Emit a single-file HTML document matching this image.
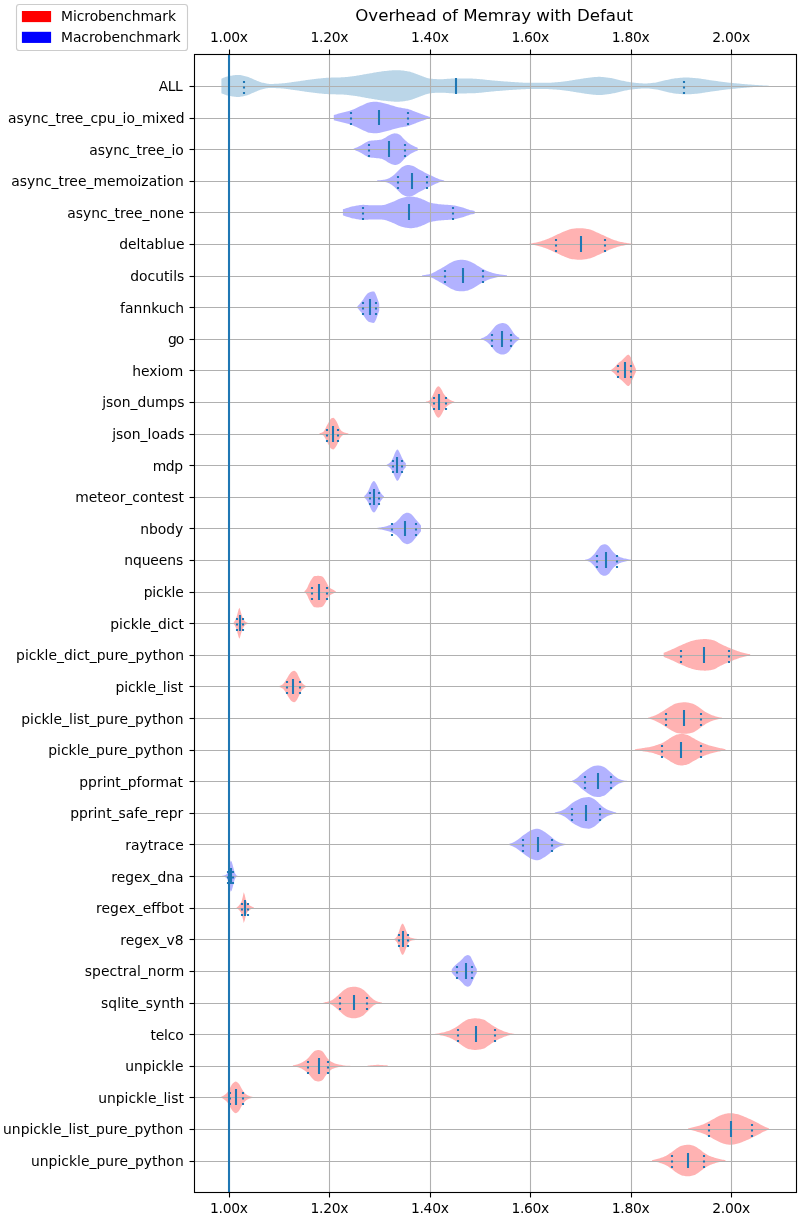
<!DOCTYPE html>
<html lang="en"><head><meta charset="utf-8"><title>Overhead of Memray with Defaut</title>
<style>html,body{margin:0;padding:0;background:#fff}svg{display:block;will-change:transform}text{font-family:'DejaVu Sans','Liberation Sans',sans-serif;fill:#000}</style>
</head><body>
<svg width="800" height="1220" viewBox="0 0 800 1220">
<rect width="800" height="1220" fill="#fff"/>
<g stroke="none" fill-opacity="0.3">
<path fill="#1f77b4" d="M221.4 78.64 L222.4 78.21 L223.4 77.8 L224.4 77.42 L225.4 77.06 L226.4 76.74 L227.4 76.48 L228.39 76.26 L229.39 76.05 L230.39 75.85 L231.39 75.66 L232.39 75.48 L233.39 75.32 L234.39 75.18 L235.39 75.07 L236.39 74.99 L237.39 74.95 L238.39 74.95 L239.39 75 L240.39 75.11 L241.39 75.27 L242.38 75.47 L243.38 75.7 L244.38 75.95 L245.38 76.21 L246.38 76.48 L247.38 76.75 L248.38 77.07 L249.38 77.45 L250.38 77.88 L251.38 78.33 L252.38 78.8 L253.38 79.25 L254.38 79.69 L255.38 80.09 L256.37 80.5 L257.37 80.91 L258.37 81.32 L259.37 81.71 L260.37 82.07 L261.37 82.38 L262.37 82.63 L263.37 82.87 L264.37 83.12 L265.37 83.35 L266.37 83.55 L267.37 83.72 L268.37 83.85 L269.36 83.93 L270.36 83.94 L271.36 83.93 L272.36 83.91 L273.36 83.88 L274.36 83.84 L275.36 83.8 L276.36 83.75 L277.36 83.69 L278.36 83.64 L279.36 83.58 L280.36 83.52 L281.36 83.45 L282.36 83.36 L283.35 83.27 L284.35 83.16 L285.35 83.05 L286.35 82.92 L287.35 82.79 L288.35 82.66 L289.35 82.52 L290.35 82.38 L291.35 82.24 L292.35 82.1 L293.35 81.96 L294.35 81.83 L295.35 81.69 L296.35 81.56 L297.34 81.42 L298.34 81.28 L299.34 81.13 L300.34 80.98 L301.34 80.83 L302.34 80.68 L303.34 80.53 L304.34 80.38 L305.34 80.23 L306.34 80.08 L307.34 79.94 L308.34 79.8 L309.34 79.67 L310.34 79.54 L311.33 79.42 L312.33 79.3 L313.33 79.19 L314.33 79.07 L315.33 78.96 L316.33 78.84 L317.33 78.72 L318.33 78.61 L319.33 78.5 L320.33 78.39 L321.33 78.29 L322.33 78.19 L323.33 78.09 L324.32 78 L325.32 77.92 L326.32 77.84 L327.32 77.78 L328.32 77.72 L329.32 77.67 L330.32 77.63 L331.32 77.6 L332.32 77.57 L333.32 77.54 L334.32 77.52 L335.32 77.51 L336.32 77.49 L337.32 77.47 L338.31 77.45 L339.31 77.43 L340.31 77.4 L341.31 77.37 L342.31 77.33 L343.31 77.27 L344.31 77.2 L345.31 77.12 L346.31 77.03 L347.31 76.93 L348.31 76.81 L349.31 76.69 L350.31 76.57 L351.31 76.43 L352.3 76.3 L353.3 76.17 L354.3 76.03 L355.3 75.9 L356.3 75.76 L357.3 75.61 L358.3 75.44 L359.3 75.28 L360.3 75.1 L361.3 74.92 L362.3 74.74 L363.3 74.55 L364.3 74.36 L365.29 74.17 L366.29 73.99 L367.29 73.81 L368.29 73.63 L369.29 73.46 L370.29 73.29 L371.29 73.13 L372.29 72.96 L373.29 72.79 L374.29 72.61 L375.29 72.44 L376.29 72.27 L377.29 72.11 L378.29 71.94 L379.28 71.79 L380.28 71.63 L381.28 71.49 L382.28 71.35 L383.28 71.23 L384.28 71.11 L385.28 71.01 L386.28 70.91 L387.28 70.81 L388.28 70.7 L389.28 70.6 L390.28 70.51 L391.28 70.42 L392.28 70.34 L393.27 70.27 L394.27 70.21 L395.27 70.17 L396.27 70.15 L397.27 70.14 L398.27 70.16 L399.27 70.21 L400.27 70.28 L401.27 70.38 L402.27 70.49 L403.27 70.61 L404.27 70.75 L405.27 70.9 L406.26 71.06 L407.26 71.22 L408.26 71.39 L409.26 71.59 L410.26 71.85 L411.26 72.14 L412.26 72.47 L413.26 72.83 L414.26 73.2 L415.26 73.58 L416.26 73.96 L417.26 74.33 L418.26 74.69 L419.26 75.02 L420.25 75.38 L421.25 75.76 L422.25 76.15 L423.25 76.55 L424.25 76.94 L425.25 77.31 L426.25 77.66 L427.25 77.97 L428.25 78.23 L429.25 78.43 L430.25 78.57 L431.25 78.68 L432.25 78.78 L433.25 78.88 L434.24 78.97 L435.24 79.05 L436.24 79.12 L437.24 79.17 L438.24 79.21 L439.24 79.23 L440.24 79.24 L441.24 79.22 L442.24 79.19 L443.24 79.14 L444.24 79.08 L445.24 79.02 L446.24 78.94 L447.24 78.86 L448.23 78.78 L449.23 78.7 L450.23 78.63 L451.23 78.57 L452.23 78.51 L453.23 78.47 L454.23 78.45 L455.23 78.44 L456.23 78.44 L457.23 78.44 L458.23 78.45 L459.23 78.45 L460.23 78.45 L461.22 78.46 L462.22 78.47 L463.22 78.47 L464.22 78.48 L465.22 78.49 L466.22 78.5 L467.22 78.51 L468.22 78.52 L469.22 78.53 L470.22 78.54 L471.22 78.56 L472.22 78.59 L473.22 78.63 L474.22 78.68 L475.21 78.74 L476.21 78.81 L477.21 78.88 L478.21 78.96 L479.21 79.05 L480.21 79.14 L481.21 79.24 L482.21 79.34 L483.21 79.44 L484.21 79.55 L485.21 79.66 L486.21 79.77 L487.21 79.88 L488.21 79.98 L489.2 80.09 L490.2 80.2 L491.2 80.3 L492.2 80.4 L493.2 80.5 L494.2 80.59 L495.2 80.68 L496.2 80.76 L497.2 80.83 L498.2 80.91 L499.2 80.99 L500.2 81.07 L501.2 81.15 L502.19 81.23 L503.19 81.31 L504.19 81.39 L505.19 81.47 L506.19 81.54 L507.19 81.62 L508.19 81.69 L509.19 81.77 L510.19 81.84 L511.19 81.9 L512.19 81.97 L513.19 82.03 L514.19 82.09 L515.19 82.15 L516.18 82.21 L517.18 82.27 L518.18 82.33 L519.18 82.4 L520.18 82.46 L521.18 82.52 L522.18 82.58 L523.18 82.63 L524.18 82.68 L525.18 82.73 L526.18 82.77 L527.18 82.8 L528.18 82.82 L529.18 82.84 L530.17 82.84 L531.17 82.84 L532.17 82.84 L533.17 82.84 L534.17 82.84 L535.17 82.84 L536.17 82.84 L537.17 82.84 L538.17 82.84 L539.17 82.84 L540.17 82.84 L541.17 82.84 L542.17 82.84 L543.16 82.84 L544.16 82.84 L545.16 82.84 L546.16 82.83 L547.16 82.81 L548.16 82.78 L549.16 82.74 L550.16 82.69 L551.16 82.63 L552.16 82.57 L553.16 82.5 L554.16 82.43 L555.16 82.35 L556.16 82.27 L557.15 82.18 L558.15 82.1 L559.15 82.01 L560.15 81.93 L561.15 81.84 L562.15 81.73 L563.15 81.62 L564.15 81.49 L565.15 81.36 L566.15 81.22 L567.15 81.07 L568.15 80.92 L569.15 80.76 L570.15 80.6 L571.14 80.44 L572.14 80.27 L573.14 80.11 L574.14 79.94 L575.14 79.78 L576.14 79.62 L577.14 79.47 L578.14 79.32 L579.14 79.17 L580.14 79.01 L581.14 78.84 L582.14 78.68 L583.14 78.51 L584.14 78.35 L585.13 78.19 L586.13 78.04 L587.13 77.89 L588.13 77.76 L589.13 77.63 L590.13 77.53 L591.13 77.42 L592.13 77.32 L593.13 77.21 L594.13 77.11 L595.13 77.02 L596.13 76.95 L597.13 76.89 L598.12 76.85 L599.12 76.84 L600.12 76.86 L601.12 76.9 L602.12 76.97 L603.12 77.05 L604.12 77.16 L605.12 77.27 L606.12 77.4 L607.12 77.54 L608.12 77.68 L609.12 77.82 L610.12 77.96 L611.12 78.11 L612.11 78.3 L613.11 78.51 L614.11 78.73 L615.11 78.98 L616.11 79.23 L617.11 79.48 L618.11 79.74 L619.11 79.99 L620.11 80.23 L621.11 80.45 L622.11 80.66 L623.11 80.86 L624.11 81.07 L625.11 81.27 L626.1 81.48 L627.1 81.67 L628.1 81.86 L629.1 82.03 L630.1 82.19 L631.1 82.33 L632.1 82.45 L633.1 82.56 L634.1 82.67 L635.1 82.78 L636.1 82.89 L637.1 82.99 L638.1 83.08 L639.09 83.17 L640.09 83.25 L641.09 83.31 L642.09 83.37 L643.09 83.41 L644.09 83.43 L645.09 83.44 L646.09 83.43 L647.09 83.39 L648.09 83.34 L649.09 83.27 L650.09 83.18 L651.09 83.08 L652.09 82.98 L653.08 82.87 L654.08 82.75 L655.08 82.63 L656.08 82.48 L657.08 82.3 L658.08 82.08 L659.08 81.84 L660.08 81.58 L661.08 81.32 L662.08 81.05 L663.08 80.79 L664.08 80.54 L665.08 80.32 L666.08 80.11 L667.07 79.89 L668.07 79.67 L669.07 79.45 L670.07 79.23 L671.07 79.02 L672.07 78.83 L673.07 78.65 L674.07 78.49 L675.07 78.35 L676.07 78.23 L677.07 78.13 L678.07 78.03 L679.07 77.93 L680.06 77.84 L681.06 77.76 L682.06 77.68 L683.06 77.62 L684.06 77.58 L685.06 77.55 L686.06 77.54 L687.06 77.55 L688.06 77.58 L689.06 77.62 L690.06 77.67 L691.06 77.74 L692.06 77.81 L693.06 77.89 L694.05 77.98 L695.05 78.07 L696.05 78.16 L697.05 78.24 L698.05 78.34 L699.05 78.46 L700.05 78.59 L701.05 78.73 L702.05 78.88 L703.05 79.04 L704.05 79.2 L705.05 79.36 L706.05 79.53 L707.05 79.69 L708.04 79.85 L709.04 80 L710.04 80.15 L711.04 80.28 L712.04 80.42 L713.04 80.56 L714.04 80.7 L715.04 80.84 L716.04 80.97 L717.04 81.11 L718.04 81.25 L719.04 81.38 L720.04 81.51 L721.04 81.65 L722.03 81.78 L723.03 81.9 L724.03 82.03 L725.03 82.15 L726.03 82.28 L727.03 82.4 L728.03 82.51 L729.03 82.63 L730.03 82.74 L731.03 82.84 L732.03 82.95 L733.03 83.05 L734.03 83.15 L735.02 83.25 L736.02 83.34 L737.02 83.44 L738.02 83.53 L739.02 83.62 L740.02 83.71 L741.02 83.8 L742.02 83.89 L743.02 83.97 L744.02 84.06 L745.02 84.14 L746.02 84.22 L747.02 84.3 L748.02 84.38 L749.01 84.46 L750.01 84.54 L751.01 84.62 L752.01 84.69 L753.01 84.77 L754.01 84.84 L755.01 84.91 L756.01 84.98 L757.01 85.05 L758.01 85.12 L759.01 85.18 L760.01 85.24 L761.01 85.3 L762.01 85.35 L763 85.41 L764 85.46 L765 85.51 L766 85.56 L767 85.6 L768 85.65 L769 85.69 L769 86.19 L768 86.23 L767 86.28 L766 86.32 L765 86.37 L764 86.42 L763 86.47 L762.01 86.53 L761.01 86.58 L760.01 86.64 L759.01 86.7 L758.01 86.76 L757.01 86.83 L756.01 86.9 L755.01 86.97 L754.01 87.04 L753.01 87.11 L752.01 87.19 L751.01 87.26 L750.01 87.34 L749.01 87.42 L748.02 87.5 L747.02 87.58 L746.02 87.66 L745.02 87.74 L744.02 87.82 L743.02 87.91 L742.02 87.99 L741.02 88.08 L740.02 88.17 L739.02 88.26 L738.02 88.35 L737.02 88.44 L736.02 88.54 L735.02 88.63 L734.03 88.73 L733.03 88.83 L732.03 88.93 L731.03 89.04 L730.03 89.14 L729.03 89.25 L728.03 89.37 L727.03 89.48 L726.03 89.6 L725.03 89.73 L724.03 89.85 L723.03 89.98 L722.03 90.1 L721.04 90.23 L720.04 90.37 L719.04 90.5 L718.04 90.63 L717.04 90.77 L716.04 90.91 L715.04 91.04 L714.04 91.18 L713.04 91.32 L712.04 91.46 L711.04 91.6 L710.04 91.73 L709.04 91.88 L708.04 92.03 L707.05 92.19 L706.05 92.35 L705.05 92.52 L704.05 92.68 L703.05 92.84 L702.05 93 L701.05 93.15 L700.05 93.29 L699.05 93.42 L698.05 93.54 L697.05 93.64 L696.05 93.72 L695.05 93.81 L694.05 93.9 L693.06 93.99 L692.06 94.07 L691.06 94.14 L690.06 94.21 L689.06 94.26 L688.06 94.3 L687.06 94.33 L686.06 94.34 L685.06 94.33 L684.06 94.3 L683.06 94.26 L682.06 94.2 L681.06 94.12 L680.06 94.04 L679.07 93.95 L678.07 93.85 L677.07 93.75 L676.07 93.65 L675.07 93.53 L674.07 93.39 L673.07 93.23 L672.07 93.05 L671.07 92.86 L670.07 92.65 L669.07 92.43 L668.07 92.21 L667.07 91.99 L666.08 91.77 L665.08 91.56 L664.08 91.34 L663.08 91.09 L662.08 90.83 L661.08 90.56 L660.08 90.3 L659.08 90.04 L658.08 89.8 L657.08 89.58 L656.08 89.4 L655.08 89.25 L654.08 89.13 L653.08 89.01 L652.09 88.9 L651.09 88.8 L650.09 88.7 L649.09 88.61 L648.09 88.54 L647.09 88.49 L646.09 88.45 L645.09 88.44 L644.09 88.45 L643.09 88.47 L642.09 88.51 L641.09 88.57 L640.09 88.63 L639.09 88.71 L638.1 88.8 L637.1 88.89 L636.1 88.99 L635.1 89.1 L634.1 89.21 L633.1 89.32 L632.1 89.43 L631.1 89.55 L630.1 89.69 L629.1 89.85 L628.1 90.02 L627.1 90.21 L626.1 90.4 L625.11 90.61 L624.11 90.81 L623.11 91.02 L622.11 91.22 L621.11 91.43 L620.11 91.65 L619.11 91.89 L618.11 92.14 L617.11 92.4 L616.11 92.65 L615.11 92.9 L614.11 93.15 L613.11 93.37 L612.11 93.58 L611.12 93.77 L610.12 93.92 L609.12 94.06 L608.12 94.2 L607.12 94.34 L606.12 94.48 L605.12 94.61 L604.12 94.72 L603.12 94.83 L602.12 94.91 L601.12 94.98 L600.12 95.02 L599.12 95.04 L598.12 95.03 L597.13 94.99 L596.13 94.93 L595.13 94.86 L594.13 94.77 L593.13 94.67 L592.13 94.56 L591.13 94.46 L590.13 94.35 L589.13 94.25 L588.13 94.12 L587.13 93.99 L586.13 93.84 L585.13 93.69 L584.14 93.53 L583.14 93.37 L582.14 93.2 L581.14 93.04 L580.14 92.87 L579.14 92.71 L578.14 92.56 L577.14 92.41 L576.14 92.26 L575.14 92.1 L574.14 91.94 L573.14 91.77 L572.14 91.61 L571.14 91.44 L570.15 91.28 L569.15 91.12 L568.15 90.96 L567.15 90.81 L566.15 90.66 L565.15 90.52 L564.15 90.39 L563.15 90.26 L562.15 90.15 L561.15 90.04 L560.15 89.95 L559.15 89.87 L558.15 89.78 L557.15 89.7 L556.16 89.61 L555.16 89.53 L554.16 89.45 L553.16 89.38 L552.16 89.31 L551.16 89.25 L550.16 89.19 L549.16 89.14 L548.16 89.1 L547.16 89.07 L546.16 89.05 L545.16 89.04 L544.16 89.04 L543.16 89.04 L542.17 89.04 L541.17 89.04 L540.17 89.04 L539.17 89.04 L538.17 89.04 L537.17 89.04 L536.17 89.04 L535.17 89.04 L534.17 89.04 L533.17 89.04 L532.17 89.04 L531.17 89.04 L530.17 89.04 L529.18 89.04 L528.18 89.06 L527.18 89.08 L526.18 89.11 L525.18 89.15 L524.18 89.2 L523.18 89.25 L522.18 89.3 L521.18 89.36 L520.18 89.42 L519.18 89.48 L518.18 89.55 L517.18 89.61 L516.18 89.67 L515.19 89.73 L514.19 89.79 L513.19 89.85 L512.19 89.91 L511.19 89.98 L510.19 90.04 L509.19 90.11 L508.19 90.19 L507.19 90.26 L506.19 90.34 L505.19 90.41 L504.19 90.49 L503.19 90.57 L502.19 90.65 L501.2 90.73 L500.2 90.81 L499.2 90.89 L498.2 90.97 L497.2 91.05 L496.2 91.12 L495.2 91.2 L494.2 91.29 L493.2 91.38 L492.2 91.48 L491.2 91.58 L490.2 91.68 L489.2 91.79 L488.21 91.9 L487.21 92 L486.21 92.11 L485.21 92.22 L484.21 92.33 L483.21 92.44 L482.21 92.54 L481.21 92.64 L480.21 92.74 L479.21 92.83 L478.21 92.92 L477.21 93 L476.21 93.07 L475.21 93.14 L474.22 93.2 L473.22 93.25 L472.22 93.29 L471.22 93.32 L470.22 93.34 L469.22 93.35 L468.22 93.36 L467.22 93.37 L466.22 93.38 L465.22 93.39 L464.22 93.4 L463.22 93.41 L462.22 93.41 L461.22 93.42 L460.23 93.43 L459.23 93.43 L458.23 93.43 L457.23 93.44 L456.23 93.44 L455.23 93.44 L454.23 93.43 L453.23 93.41 L452.23 93.37 L451.23 93.31 L450.23 93.25 L449.23 93.18 L448.23 93.1 L447.24 93.02 L446.24 92.94 L445.24 92.86 L444.24 92.8 L443.24 92.74 L442.24 92.69 L441.24 92.66 L440.24 92.64 L439.24 92.65 L438.24 92.67 L437.24 92.71 L436.24 92.76 L435.24 92.83 L434.24 92.91 L433.25 93 L432.25 93.1 L431.25 93.2 L430.25 93.31 L429.25 93.45 L428.25 93.65 L427.25 93.91 L426.25 94.22 L425.25 94.57 L424.25 94.94 L423.25 95.33 L422.25 95.73 L421.25 96.12 L420.25 96.5 L419.26 96.86 L418.26 97.19 L417.26 97.55 L416.26 97.92 L415.26 98.3 L414.26 98.68 L413.26 99.05 L412.26 99.41 L411.26 99.74 L410.26 100.03 L409.26 100.29 L408.26 100.49 L407.26 100.66 L406.26 100.82 L405.27 100.98 L404.27 101.13 L403.27 101.27 L402.27 101.39 L401.27 101.5 L400.27 101.6 L399.27 101.67 L398.27 101.72 L397.27 101.74 L396.27 101.73 L395.27 101.71 L394.27 101.67 L393.27 101.61 L392.28 101.54 L391.28 101.46 L390.28 101.37 L389.28 101.28 L388.28 101.18 L387.28 101.07 L386.28 100.97 L385.28 100.87 L384.28 100.77 L383.28 100.65 L382.28 100.53 L381.28 100.39 L380.28 100.25 L379.28 100.09 L378.29 99.94 L377.29 99.77 L376.29 99.61 L375.29 99.44 L374.29 99.27 L373.29 99.09 L372.29 98.92 L371.29 98.75 L370.29 98.59 L369.29 98.42 L368.29 98.25 L367.29 98.07 L366.29 97.89 L365.29 97.71 L364.3 97.52 L363.3 97.33 L362.3 97.14 L361.3 96.96 L360.3 96.78 L359.3 96.6 L358.3 96.44 L357.3 96.27 L356.3 96.12 L355.3 95.98 L354.3 95.85 L353.3 95.71 L352.3 95.58 L351.31 95.45 L350.31 95.31 L349.31 95.19 L348.31 95.07 L347.31 94.95 L346.31 94.85 L345.31 94.76 L344.31 94.68 L343.31 94.61 L342.31 94.55 L341.31 94.51 L340.31 94.48 L339.31 94.45 L338.31 94.43 L337.32 94.41 L336.32 94.39 L335.32 94.37 L334.32 94.36 L333.32 94.34 L332.32 94.31 L331.32 94.28 L330.32 94.25 L329.32 94.21 L328.32 94.16 L327.32 94.1 L326.32 94.04 L325.32 93.96 L324.32 93.88 L323.33 93.79 L322.33 93.69 L321.33 93.59 L320.33 93.49 L319.33 93.38 L318.33 93.27 L317.33 93.16 L316.33 93.04 L315.33 92.92 L314.33 92.81 L313.33 92.69 L312.33 92.58 L311.33 92.46 L310.34 92.34 L309.34 92.21 L308.34 92.08 L307.34 91.94 L306.34 91.8 L305.34 91.65 L304.34 91.5 L303.34 91.35 L302.34 91.2 L301.34 91.05 L300.34 90.9 L299.34 90.75 L298.34 90.6 L297.34 90.46 L296.35 90.32 L295.35 90.19 L294.35 90.05 L293.35 89.92 L292.35 89.78 L291.35 89.64 L290.35 89.5 L289.35 89.36 L288.35 89.22 L287.35 89.09 L286.35 88.96 L285.35 88.83 L284.35 88.72 L283.35 88.61 L282.36 88.52 L281.36 88.43 L280.36 88.36 L279.36 88.3 L278.36 88.24 L277.36 88.19 L276.36 88.13 L275.36 88.08 L274.36 88.04 L273.36 88 L272.36 87.97 L271.36 87.95 L270.36 87.94 L269.36 87.95 L268.37 88.03 L267.37 88.16 L266.37 88.33 L265.37 88.53 L264.37 88.76 L263.37 89.01 L262.37 89.25 L261.37 89.5 L260.37 89.81 L259.37 90.17 L258.37 90.56 L257.37 90.97 L256.37 91.38 L255.38 91.79 L254.38 92.19 L253.38 92.63 L252.38 93.08 L251.38 93.55 L250.38 94 L249.38 94.43 L248.38 94.81 L247.38 95.13 L246.38 95.4 L245.38 95.67 L244.38 95.93 L243.38 96.18 L242.38 96.41 L241.39 96.61 L240.39 96.77 L239.39 96.88 L238.39 96.93 L237.39 96.93 L236.39 96.89 L235.39 96.81 L234.39 96.7 L233.39 96.56 L232.39 96.4 L231.39 96.22 L230.39 96.03 L229.39 95.83 L228.39 95.62 L227.4 95.4 L226.4 95.14 L225.4 94.82 L224.4 94.46 L223.4 94.08 L222.4 93.67 L221.4 93.24Z"/>
<path fill="#0000ff" d="M333.8 114.95 L334.81 114.68 L335.81 114.41 L336.82 114.14 L337.82 113.87 L338.83 113.6 L339.83 113.33 L340.84 113.06 L341.84 112.79 L342.85 112.52 L343.85 112.27 L344.86 112.02 L345.86 111.77 L346.87 111.51 L347.87 111.25 L348.88 110.97 L349.88 110.67 L350.89 110.35 L351.89 109.99 L352.9 109.59 L353.9 109.16 L354.91 108.7 L355.91 108.22 L356.92 107.74 L357.93 107.24 L358.93 106.76 L359.94 106.28 L360.94 105.83 L361.95 105.4 L362.95 104.94 L363.96 104.46 L364.96 103.98 L365.97 103.51 L366.97 103.08 L367.98 102.71 L368.98 102.42 L369.99 102.23 L370.99 102.1 L372 101.97 L373 101.86 L374.01 101.79 L375.01 101.75 L376.02 101.76 L377.02 101.85 L378.03 101.99 L379.03 102.17 L380.04 102.36 L381.04 102.55 L382.05 102.75 L383.06 102.98 L384.06 103.24 L385.07 103.5 L386.07 103.78 L387.08 104.05 L388.08 104.32 L389.09 104.6 L390.09 104.89 L391.1 105.19 L392.1 105.49 L393.11 105.8 L394.11 106.1 L395.12 106.39 L396.12 106.67 L397.13 106.94 L398.13 107.19 L399.14 107.42 L400.14 107.62 L401.15 107.8 L402.15 107.97 L403.16 108.13 L404.16 108.29 L405.17 108.46 L406.18 108.64 L407.18 108.85 L408.19 109.09 L409.19 109.39 L410.2 109.73 L411.2 110.11 L412.21 110.51 L413.21 110.92 L414.22 111.33 L415.22 111.72 L416.23 112.09 L417.23 112.47 L418.24 112.85 L419.24 113.23 L420.25 113.61 L421.25 113.99 L422.26 114.35 L423.26 114.71 L424.27 115.06 L425.27 115.41 L426.28 115.75 L427.28 116.08 L428.29 116.41 L429.29 116.73 L430.3 117.05 L430.3 118.05 L429.29 118.36 L428.29 118.68 L427.28 119.01 L426.28 119.35 L425.27 119.68 L424.27 120.03 L423.26 120.38 L422.26 120.74 L421.25 121.11 L420.25 121.48 L419.24 121.86 L418.24 122.24 L417.23 122.62 L416.23 123 L415.22 123.38 L414.22 123.76 L413.21 124.17 L412.21 124.58 L411.2 124.98 L410.2 125.36 L409.19 125.71 L408.19 126 L407.18 126.24 L406.18 126.45 L405.17 126.63 L404.16 126.8 L403.16 126.97 L402.15 127.13 L401.15 127.29 L400.14 127.47 L399.14 127.67 L398.13 127.9 L397.13 128.15 L396.12 128.42 L395.12 128.7 L394.11 129 L393.11 129.3 L392.1 129.6 L391.1 129.9 L390.09 130.2 L389.09 130.49 L388.08 130.77 L387.08 131.04 L386.07 131.31 L385.07 131.59 L384.06 131.86 L383.06 132.11 L382.05 132.34 L381.04 132.54 L380.04 132.73 L379.03 132.92 L378.03 133.1 L377.02 133.24 L376.02 133.33 L375.01 133.34 L374.01 133.3 L373 133.23 L372 133.12 L370.99 133 L369.99 132.86 L368.98 132.67 L367.98 132.38 L366.97 132.01 L365.97 131.58 L364.96 131.12 L363.96 130.63 L362.95 130.15 L361.95 129.69 L360.94 129.26 L359.94 128.81 L358.93 128.33 L357.93 127.85 L356.92 127.36 L355.91 126.87 L354.91 126.39 L353.9 125.93 L352.9 125.5 L351.89 125.1 L350.89 124.74 L349.88 124.42 L348.88 124.12 L347.87 123.84 L346.87 123.58 L345.86 123.33 L344.86 123.08 L343.85 122.82 L342.85 122.57 L341.84 122.3 L340.84 122.03 L339.83 121.76 L338.83 121.49 L337.82 121.22 L336.82 120.95 L335.81 120.68 L334.81 120.42 L333.8 120.15Z"/>
<path fill="#0000ff" d="M353.7 148.55 L354.7 148.19 L355.7 147.8 L356.7 147.38 L357.7 146.94 L358.7 146.48 L359.7 146 L360.7 145.5 L361.7 144.95 L362.7 144.34 L363.7 143.71 L364.7 143.09 L365.7 142.51 L366.7 141.97 L367.7 141.42 L368.7 141.02 L369.7 140.84 L370.7 140.7 L371.7 140.6 L372.7 140.52 L373.7 140.44 L374.7 140.36 L375.7 140.26 L376.7 140.16 L377.7 140.06 L378.7 139.95 L379.7 139.82 L380.7 139.67 L381.7 139.45 L382.7 139.07 L383.7 138.57 L384.7 138.02 L385.7 137.43 L386.7 136.76 L387.7 136.09 L388.7 135.51 L389.7 134.95 L390.7 134.44 L391.7 134.04 L392.7 133.75 L393.7 133.5 L394.7 133.36 L395.7 133.4 L396.7 133.58 L397.7 133.86 L398.7 134.24 L399.7 134.87 L400.7 135.61 L401.7 136.55 L402.7 137.67 L403.7 138.82 L404.7 139.87 L405.7 140.76 L406.7 141.6 L407.7 142.4 L408.7 143.15 L409.7 143.83 L410.7 144.46 L411.7 145.03 L412.7 145.57 L413.7 146.07 L414.7 146.52 L415.7 146.94 L416.7 147.32 L417.7 147.65 L417.7 150.65 L416.7 150.99 L415.7 151.36 L414.7 151.78 L413.7 152.24 L412.7 152.73 L411.7 153.27 L410.7 153.85 L409.7 154.47 L408.7 155.16 L407.7 155.9 L406.7 156.7 L405.7 157.55 L404.7 158.44 L403.7 159.48 L402.7 160.63 L401.7 161.75 L400.7 162.7 L399.7 163.44 L398.7 164.06 L397.7 164.44 L396.7 164.72 L395.7 164.91 L394.7 164.94 L393.7 164.8 L392.7 164.55 L391.7 164.26 L390.7 163.86 L389.7 163.35 L388.7 162.79 L387.7 162.22 L386.7 161.55 L385.7 160.87 L384.7 160.29 L383.7 159.74 L382.7 159.23 L381.7 158.85 L380.7 158.64 L379.7 158.48 L378.7 158.36 L377.7 158.25 L376.7 158.15 L375.7 158.04 L374.7 157.94 L373.7 157.86 L372.7 157.78 L371.7 157.7 L370.7 157.6 L369.7 157.47 L368.7 157.28 L367.7 156.88 L366.7 156.33 L365.7 155.79 L364.7 155.22 L363.7 154.6 L362.7 153.97 L361.7 153.36 L360.7 152.8 L359.7 152.3 L358.7 151.82 L357.7 151.36 L356.7 150.92 L355.7 150.5 L354.7 150.11 L353.7 149.75Z"/>
<path fill="#0000ff" d="M377.2 180.36 L378.2 180.33 L379.2 180.27 L380.2 180.18 L381.2 180.08 L382.2 179.96 L383.2 179.83 L384.2 179.67 L385.2 179.47 L386.2 179.23 L387.2 178.95 L388.2 178.61 L389.2 178.16 L390.2 177.61 L391.2 176.99 L392.2 176.32 L393.2 175.61 L394.2 174.77 L395.2 173.81 L396.2 172.77 L397.2 171.74 L398.2 170.76 L399.2 169.76 L400.2 168.71 L401.2 167.75 L402.2 166.98 L403.2 166.47 L404.2 166 L405.2 165.58 L406.2 165.24 L407.2 165.03 L408.2 164.96 L409.2 165.03 L410.2 165.19 L411.2 165.4 L412.2 165.64 L413.2 165.99 L414.2 166.48 L415.2 167.05 L416.2 167.68 L417.2 168.33 L418.2 168.95 L419.2 169.51 L420.2 170.04 L421.2 170.57 L422.2 171.1 L423.2 171.62 L424.2 172.14 L425.2 172.65 L426.2 173.16 L427.2 173.66 L428.2 174.15 L429.2 174.65 L430.2 175.14 L431.2 175.62 L432.2 176.1 L433.2 176.56 L434.2 177.01 L435.2 177.46 L436.2 177.92 L437.2 178.37 L438.2 178.78 L439.2 179.16 L440.2 179.48 L441.2 179.77 L442.2 180.03 L443.2 180.26 L444.2 180.46 L444.2 181.06 L443.2 181.25 L442.2 181.48 L441.2 181.75 L440.2 182.04 L439.2 182.36 L438.2 182.73 L437.2 183.15 L436.2 183.59 L435.2 184.05 L434.2 184.5 L433.2 184.96 L432.2 185.42 L431.2 185.9 L430.2 186.38 L429.2 186.87 L428.2 187.36 L427.2 187.86 L426.2 188.36 L425.2 188.87 L424.2 189.38 L423.2 189.9 L422.2 190.42 L421.2 190.95 L420.2 191.48 L419.2 192 L418.2 192.57 L417.2 193.19 L416.2 193.83 L415.2 194.46 L414.2 195.04 L413.2 195.52 L412.2 195.88 L411.2 196.12 L410.2 196.33 L409.2 196.49 L408.2 196.56 L407.2 196.49 L406.2 196.27 L405.2 195.94 L404.2 195.52 L403.2 195.05 L402.2 194.53 L401.2 193.77 L400.2 192.81 L399.2 191.76 L398.2 190.75 L397.2 189.78 L396.2 188.74 L395.2 187.71 L394.2 186.74 L393.2 185.9 L392.2 185.2 L391.2 184.52 L390.2 183.9 L389.2 183.36 L388.2 182.91 L387.2 182.57 L386.2 182.28 L385.2 182.04 L384.2 181.84 L383.2 181.68 L382.2 181.56 L381.2 181.44 L380.2 181.33 L379.2 181.25 L378.2 181.19 L377.2 181.16Z"/>
<path fill="#0000ff" d="M342.9 209.36 L343.9 209 L344.9 208.65 L345.9 208.32 L346.89 208 L347.89 207.7 L348.89 207.4 L349.89 207.11 L350.89 206.83 L351.89 206.57 L352.88 206.34 L353.88 206.14 L354.88 205.95 L355.88 205.76 L356.88 205.57 L357.88 205.39 L358.88 205.23 L359.87 205.09 L360.87 204.98 L361.87 204.9 L362.87 204.87 L363.87 204.87 L364.87 204.9 L365.87 204.95 L366.86 205.01 L367.86 205.07 L368.86 205.13 L369.86 205.19 L370.86 205.23 L371.86 205.26 L372.85 205.26 L373.85 205.26 L374.85 205.26 L375.85 205.25 L376.85 205.24 L377.85 205.23 L378.85 205.22 L379.84 205.2 L380.84 205.18 L381.84 205.17 L382.84 205.1 L383.84 204.95 L384.84 204.72 L385.83 204.44 L386.83 204.11 L387.83 203.75 L388.83 203.37 L389.83 202.98 L390.83 202.61 L391.83 202.25 L392.82 201.85 L393.82 201.4 L394.82 200.92 L395.82 200.43 L396.82 199.94 L397.82 199.47 L398.82 199.03 L399.81 198.64 L400.81 198.3 L401.81 197.98 L402.81 197.67 L403.81 197.39 L404.81 197.16 L405.8 196.99 L406.8 196.87 L407.8 196.76 L408.8 196.66 L409.8 196.6 L410.8 196.56 L411.8 196.59 L412.79 196.67 L413.79 196.8 L414.79 196.96 L415.79 197.13 L416.79 197.32 L417.79 197.59 L418.78 197.9 L419.78 198.24 L420.78 198.6 L421.78 198.96 L422.78 199.38 L423.78 199.84 L424.78 200.33 L425.77 200.83 L426.77 201.32 L427.77 201.78 L428.77 202.19 L429.77 202.54 L430.77 202.8 L431.77 203.02 L432.76 203.22 L433.76 203.41 L434.76 203.58 L435.76 203.73 L436.76 203.87 L437.76 204 L438.75 204.13 L439.75 204.24 L440.75 204.34 L441.75 204.43 L442.75 204.51 L443.75 204.58 L444.75 204.64 L445.74 204.7 L446.74 204.76 L447.74 204.82 L448.74 204.89 L449.74 204.96 L450.74 205.04 L451.73 205.14 L452.73 205.24 L453.73 205.38 L454.73 205.54 L455.73 205.73 L456.73 205.95 L457.73 206.18 L458.72 206.44 L459.72 206.7 L460.72 206.97 L461.72 207.25 L462.72 207.52 L463.72 207.83 L464.72 208.17 L465.71 208.53 L466.71 208.9 L467.71 209.26 L468.71 209.59 L469.71 209.89 L470.71 210.14 L471.7 210.37 L472.7 210.59 L473.7 210.79 L474.7 210.96 L474.7 213.76 L473.7 213.94 L472.7 214.14 L471.7 214.35 L470.71 214.59 L469.71 214.84 L468.71 215.14 L467.71 215.47 L466.71 215.83 L465.71 216.19 L464.72 216.56 L463.72 216.9 L462.72 217.2 L461.72 217.48 L460.72 217.75 L459.72 218.03 L458.72 218.29 L457.73 218.54 L456.73 218.78 L455.73 219 L454.73 219.19 L453.73 219.35 L452.73 219.48 L451.73 219.59 L450.74 219.68 L449.74 219.77 L448.74 219.84 L447.74 219.9 L446.74 219.97 L445.74 220.03 L444.75 220.09 L443.75 220.15 L442.75 220.22 L441.75 220.3 L440.75 220.39 L439.75 220.49 L438.75 220.6 L437.76 220.72 L436.76 220.85 L435.76 221 L434.76 221.15 L433.76 221.32 L432.76 221.5 L431.77 221.71 L430.77 221.93 L429.77 222.19 L428.77 222.54 L427.77 222.95 L426.77 223.41 L425.77 223.9 L424.78 224.4 L423.78 224.89 L422.78 225.35 L421.78 225.77 L420.78 226.13 L419.78 226.49 L418.78 226.83 L417.79 227.14 L416.79 227.4 L415.79 227.6 L414.79 227.77 L413.79 227.93 L412.79 228.06 L411.8 228.14 L410.8 228.16 L409.8 228.13 L408.8 228.07 L407.8 227.97 L406.8 227.86 L405.8 227.74 L404.81 227.57 L403.81 227.33 L402.81 227.06 L401.81 226.75 L400.81 226.43 L399.81 226.09 L398.82 225.7 L397.82 225.26 L396.82 224.78 L395.82 224.3 L394.82 223.81 L393.82 223.33 L392.82 222.88 L391.83 222.47 L390.83 222.11 L389.83 221.74 L388.83 221.36 L387.83 220.98 L386.83 220.62 L385.83 220.29 L384.84 220 L383.84 219.78 L382.84 219.63 L381.84 219.56 L380.84 219.54 L379.84 219.53 L378.85 219.51 L377.85 219.5 L376.85 219.49 L375.85 219.48 L374.85 219.47 L373.85 219.47 L372.85 219.46 L371.86 219.47 L370.86 219.5 L369.86 219.54 L368.86 219.6 L367.86 219.66 L366.86 219.72 L365.87 219.78 L364.87 219.83 L363.87 219.86 L362.87 219.86 L361.87 219.83 L360.87 219.75 L359.87 219.64 L358.88 219.5 L357.88 219.34 L356.88 219.16 L355.88 218.97 L354.88 218.78 L353.88 218.59 L352.88 218.39 L351.89 218.15 L350.89 217.89 L349.89 217.62 L348.89 217.33 L347.89 217.03 L346.89 216.73 L345.9 216.41 L344.9 216.07 L343.9 215.73 L342.9 215.36Z"/>
<path fill="#ff0000" d="M529.3 243.67 L530.3 243.54 L531.29 243.39 L532.29 243.22 L533.28 243.04 L534.28 242.85 L535.27 242.64 L536.27 242.42 L537.26 242.19 L538.26 241.95 L539.25 241.71 L540.25 241.45 L541.24 241.16 L542.24 240.85 L543.23 240.53 L544.23 240.18 L545.22 239.82 L546.22 239.45 L547.21 239.07 L548.21 238.69 L549.2 238.28 L550.2 237.84 L551.19 237.39 L552.19 236.92 L553.18 236.45 L554.18 235.97 L555.17 235.5 L556.17 235.05 L557.17 234.58 L558.16 234.11 L559.16 233.63 L560.15 233.15 L561.15 232.69 L562.14 232.25 L563.14 231.83 L564.13 231.44 L565.13 231.05 L566.12 230.65 L567.12 230.26 L568.11 229.89 L569.11 229.54 L570.1 229.24 L571.1 228.99 L572.09 228.81 L573.09 228.69 L574.08 228.57 L575.08 228.47 L576.07 228.37 L577.07 228.29 L578.06 228.23 L579.06 228.19 L580.05 228.17 L581.05 228.18 L582.05 228.23 L583.04 228.32 L584.04 228.43 L585.03 228.58 L586.03 228.74 L587.02 228.93 L588.02 229.12 L589.01 229.33 L590.01 229.54 L591 229.82 L592 230.18 L592.99 230.59 L593.99 231.04 L594.98 231.5 L595.98 231.96 L596.97 232.4 L597.97 232.83 L598.96 233.27 L599.96 233.72 L600.95 234.17 L601.95 234.63 L602.94 235.08 L603.94 235.54 L604.93 235.99 L605.93 236.44 L606.92 236.92 L607.92 237.39 L608.92 237.87 L609.91 238.33 L610.91 238.77 L611.9 239.17 L612.9 239.54 L613.89 239.88 L614.89 240.22 L615.88 240.54 L616.88 240.84 L617.87 241.13 L618.87 241.4 L619.86 241.65 L620.86 241.88 L621.85 242.08 L622.85 242.28 L623.84 242.48 L624.84 242.67 L625.83 242.85 L626.83 243.02 L627.82 243.18 L628.82 243.32 L629.81 243.46 L630.81 243.58 L631.8 243.68 L632.8 243.77 L632.8 244.17 L631.8 244.26 L630.81 244.36 L629.81 244.48 L628.82 244.62 L627.82 244.76 L626.83 244.92 L625.83 245.09 L624.84 245.27 L623.84 245.46 L622.85 245.66 L621.85 245.86 L620.86 246.06 L619.86 246.29 L618.87 246.54 L617.87 246.81 L616.88 247.1 L615.88 247.4 L614.89 247.72 L613.89 248.06 L612.9 248.4 L611.9 248.77 L610.91 249.17 L609.91 249.61 L608.92 250.07 L607.92 250.55 L606.92 251.02 L605.93 251.5 L604.93 251.95 L603.94 252.4 L602.94 252.86 L601.95 253.31 L600.95 253.77 L599.96 254.22 L598.96 254.67 L597.97 255.11 L596.97 255.54 L595.98 255.98 L594.98 256.44 L593.99 256.9 L592.99 257.35 L592 257.76 L591 258.12 L590.01 258.4 L589.01 258.61 L588.02 258.82 L587.02 259.01 L586.03 259.2 L585.03 259.36 L584.04 259.51 L583.04 259.62 L582.05 259.71 L581.05 259.76 L580.05 259.77 L579.06 259.75 L578.06 259.71 L577.07 259.65 L576.07 259.57 L575.08 259.47 L574.08 259.37 L573.09 259.25 L572.09 259.13 L571.1 258.95 L570.1 258.7 L569.11 258.4 L568.11 258.05 L567.12 257.68 L566.12 257.29 L565.13 256.89 L564.13 256.5 L563.14 256.11 L562.14 255.69 L561.15 255.25 L560.15 254.79 L559.16 254.31 L558.16 253.83 L557.17 253.36 L556.17 252.89 L555.17 252.44 L554.18 251.97 L553.18 251.49 L552.19 251.02 L551.19 250.55 L550.2 250.1 L549.2 249.66 L548.21 249.25 L547.21 248.87 L546.22 248.49 L545.22 248.12 L544.23 247.76 L543.23 247.41 L542.24 247.09 L541.24 246.78 L540.25 246.49 L539.25 246.23 L538.26 245.99 L537.26 245.75 L536.27 245.52 L535.27 245.3 L534.28 245.09 L533.28 244.9 L532.29 244.72 L531.29 244.55 L530.3 244.4 L529.3 244.27Z"/>
<path fill="#0000ff" d="M422.1 275.18 L423.1 275.15 L424.1 275.07 L425.1 274.95 L426.1 274.79 L427.09 274.6 L428.09 274.38 L429.09 274.15 L430.09 273.9 L431.09 273.64 L432.09 273.27 L433.09 272.82 L434.09 272.29 L435.08 271.73 L436.08 271.16 L437.08 270.6 L438.08 270.07 L439.08 269.52 L440.08 268.96 L441.08 268.4 L442.08 267.82 L443.08 267.24 L444.07 266.66 L445.07 266.07 L446.07 265.47 L447.07 264.84 L448.07 264.2 L449.07 263.58 L450.07 263.01 L451.07 262.49 L452.06 262.02 L453.06 261.56 L454.06 261.12 L455.06 260.75 L456.06 260.47 L457.06 260.28 L458.06 260.11 L459.06 259.96 L460.06 259.85 L461.05 259.79 L462.05 259.78 L463.05 259.85 L464.05 259.96 L465.05 260.12 L466.05 260.29 L467.05 260.49 L468.05 260.77 L469.04 261.13 L470.04 261.54 L471.04 261.99 L472.04 262.44 L473.04 262.94 L474.04 263.5 L475.04 264.11 L476.04 264.74 L477.04 265.38 L478.03 266.01 L479.03 266.62 L480.03 267.23 L481.03 267.85 L482.03 268.45 L483.03 268.99 L484.03 269.5 L485.03 269.99 L486.02 270.46 L487.02 270.91 L488.02 271.33 L489.02 271.71 L490.02 272.05 L491.02 272.36 L492.02 272.66 L493.02 272.94 L494.02 273.21 L495.01 273.46 L496.01 273.68 L497.01 273.89 L498.01 274.08 L499.01 274.25 L500.01 274.42 L501.01 274.58 L502.01 274.73 L503 274.86 L504 274.99 L505 275.1 L506 275.2 L507 275.28 L507 275.88 L506 275.95 L505 276.05 L504 276.16 L503 276.29 L502.01 276.43 L501.01 276.57 L500.01 276.73 L499.01 276.9 L498.01 277.07 L497.01 277.26 L496.01 277.47 L495.01 277.7 L494.02 277.94 L493.02 278.21 L492.02 278.49 L491.02 278.79 L490.02 279.1 L489.02 279.44 L488.02 279.82 L487.02 280.24 L486.02 280.69 L485.03 281.16 L484.03 281.65 L483.03 282.16 L482.03 282.71 L481.03 283.3 L480.03 283.92 L479.03 284.54 L478.03 285.14 L477.04 285.77 L476.04 286.41 L475.04 287.04 L474.04 287.65 L473.04 288.21 L472.04 288.71 L471.04 289.16 L470.04 289.61 L469.04 290.02 L468.05 290.38 L467.05 290.66 L466.05 290.86 L465.05 291.03 L464.05 291.19 L463.05 291.3 L462.05 291.37 L461.05 291.37 L460.06 291.3 L459.06 291.19 L458.06 291.04 L457.06 290.88 L456.06 290.68 L455.06 290.4 L454.06 290.03 L453.06 289.6 L452.06 289.13 L451.07 288.67 L450.07 288.15 L449.07 287.57 L448.07 286.95 L447.07 286.32 L446.07 285.68 L445.07 285.08 L444.07 284.5 L443.08 283.91 L442.08 283.33 L441.08 282.76 L440.08 282.19 L439.08 281.63 L438.08 281.09 L437.08 280.55 L436.08 279.99 L435.08 279.42 L434.09 278.86 L433.09 278.34 L432.09 277.88 L431.09 277.51 L430.09 277.25 L429.09 277 L428.09 276.77 L427.09 276.55 L426.1 276.36 L425.1 276.2 L424.1 276.08 L423.1 276 L422.1 275.98Z"/>
<path fill="#0000ff" d="M357.2 306.68 L358.2 305.57 L359.2 304.41 L360.2 303.22 L361.2 302.01 L362.2 300.75 L363.2 299.4 L364.2 297.83 L365.2 296.25 L366.2 294.95 L367.2 293.85 L368.2 292.95 L369.2 292.4 L370.2 292.01 L371.2 291.74 L372.2 291.56 L373.2 291.42 L374.2 291.5 L375.2 293.01 L376.2 295.17 L377.2 298.04 L378.2 300.83 L379.2 303.68 L379.2 310.68 L378.2 313.53 L377.2 316.32 L376.2 319.19 L375.2 321.35 L374.2 322.86 L373.2 322.95 L372.2 322.81 L371.2 322.62 L370.2 322.35 L369.2 321.97 L368.2 321.41 L367.2 320.51 L366.2 319.41 L365.2 318.12 L364.2 316.53 L363.2 314.96 L362.2 313.62 L361.2 312.36 L360.2 311.14 L359.2 309.95 L358.2 308.8 L357.2 307.68Z"/>
<path fill="#0000ff" d="M480.8 338.39 L481.81 338.16 L482.83 337.82 L483.84 337.38 L484.85 336.86 L485.87 336.31 L486.88 335.63 L487.89 334.78 L488.91 333.83 L489.92 332.77 L490.93 331.53 L491.94 330.27 L492.96 329.03 L493.97 327.73 L494.98 326.54 L496 325.59 L497.01 324.85 L498.02 324.22 L499.04 323.74 L500.05 323.44 L501.06 323.19 L502.08 323.02 L503.09 323 L504.1 323.17 L505.12 323.46 L506.13 323.86 L507.14 324.52 L508.16 325.37 L509.17 326.43 L510.18 327.81 L511.19 329.27 L512.21 330.84 L513.22 332.43 L514.23 333.77 L515.25 334.89 L516.26 335.85 L517.27 336.63 L518.29 337.28 L519.3 337.79 L519.3 339.79 L518.29 340.29 L517.27 340.94 L516.26 341.72 L515.25 342.69 L514.23 343.81 L513.22 345.14 L512.21 346.73 L511.19 348.31 L510.18 349.76 L509.17 351.15 L508.16 352.21 L507.14 353.05 L506.13 353.72 L505.12 354.11 L504.1 354.41 L503.09 354.57 L502.08 354.55 L501.06 354.39 L500.05 354.14 L499.04 353.84 L498.02 353.36 L497.01 352.72 L496 351.99 L494.98 351.04 L493.97 349.84 L492.96 348.55 L491.94 347.3 L490.93 346.04 L489.92 344.81 L488.91 343.75 L487.89 342.79 L486.88 341.94 L485.87 341.27 L484.85 340.71 L483.84 340.2 L482.83 339.76 L481.81 339.41 L480.8 339.19Z"/>
<path fill="#ff0000" d="M610.9 369.99 L611.9 369.33 L612.9 368.56 L613.9 367.71 L614.9 366.79 L615.9 365.7 L616.9 364.47 L617.9 363.39 L618.9 362.57 L619.9 361.87 L620.9 361.16 L621.9 360.32 L622.9 359.32 L623.9 358.26 L624.9 357.28 L625.9 356.32 L626.9 355.35 L627.9 354.69 L628.9 354.78 L629.9 355.94 L630.9 357.5 L631.9 359.79 L632.9 362.29 L633.9 364.62 L634.9 366.84 L635.9 368.89 L635.9 371.89 L634.9 373.95 L633.9 376.17 L632.9 378.49 L631.9 381 L630.9 383.29 L629.9 384.85 L628.9 386.01 L627.9 386.1 L626.9 385.44 L625.9 384.47 L624.9 383.51 L623.9 382.53 L622.9 381.47 L621.9 380.46 L620.9 379.63 L619.9 378.92 L618.9 378.21 L617.9 377.39 L616.9 376.32 L615.9 375.09 L614.9 373.99 L613.9 373.08 L612.9 372.23 L611.9 371.46 L610.9 370.79Z"/>
<path fill="#ff0000" d="M425.9 401.6 L426.92 401.48 L427.94 401.16 L428.95 400.67 L429.97 400.05 L430.99 398.74 L432.01 396.87 L433.02 394.76 L434.04 392.49 L435.06 390.19 L436.08 388.33 L437.1 387.01 L438.11 386.22 L439.13 386.53 L440.15 387.58 L441.17 388.89 L442.19 390.82 L443.2 392.97 L444.22 394.52 L445.24 395.85 L446.26 396.97 L447.27 397.96 L448.29 398.81 L449.31 399.48 L450.33 400 L451.35 400.45 L452.36 400.89 L453.38 401.31 L454.4 401.7 L454.4 402.3 L453.38 402.69 L452.36 403.11 L451.35 403.55 L450.33 404 L449.31 404.52 L448.29 405.19 L447.27 406.04 L446.26 407.03 L445.24 408.15 L444.22 409.48 L443.2 411.03 L442.19 413.18 L441.17 415.11 L440.15 416.42 L439.13 417.47 L438.11 417.78 L437.1 416.99 L436.08 415.67 L435.06 413.81 L434.04 411.51 L433.02 409.24 L432.01 407.13 L430.99 405.26 L429.97 403.95 L428.95 403.33 L427.94 402.84 L426.92 402.52 L425.9 402.4Z"/>
<path fill="#ff0000" d="M319.5 433.21 L320.49 433.09 L321.49 432.78 L322.48 432.32 L323.47 431.69 L324.47 430.3 L325.46 428.5 L326.45 426.36 L327.44 424.4 L328.44 422.75 L329.43 421.15 L330.42 419.3 L331.42 418.37 L332.41 417.95 L333.4 417.81 L334.4 418.42 L335.39 419.68 L336.38 421.15 L337.38 423.21 L338.37 425.46 L339.36 427.91 L340.36 429.58 L341.35 430.75 L342.34 431.6 L343.33 432.09 L344.33 432.48 L345.32 432.82 L346.31 433.08 L347.31 433.25 L348.3 433.31 L348.3 433.91 L347.31 433.97 L346.31 434.13 L345.32 434.39 L344.33 434.73 L343.33 435.12 L342.34 435.62 L341.35 436.46 L340.36 437.63 L339.36 439.3 L338.37 441.75 L337.38 444 L336.38 446.06 L335.39 447.53 L334.4 448.79 L333.4 449.4 L332.41 449.27 L331.42 448.84 L330.42 447.92 L329.43 446.06 L328.44 444.46 L327.44 442.81 L326.45 440.85 L325.46 438.71 L324.47 436.91 L323.47 435.52 L322.48 434.9 L321.49 434.43 L320.49 434.12 L319.5 434.01Z"/>
<path fill="#0000ff" d="M386.8 464.51 L387.8 464.2 L388.81 463.58 L389.81 462.79 L390.81 461.72 L391.81 460.19 L392.82 458.37 L393.82 455.94 L394.82 453.37 L395.82 451.34 L396.83 449.73 L397.83 449.58 L398.83 450.97 L399.83 452.91 L400.84 455.02 L401.84 457.38 L402.84 459.31 L403.84 460.94 L404.85 462.21 L405.85 463.21 L405.85 467.21 L404.85 468.21 L403.84 469.49 L402.84 471.12 L401.84 473.04 L400.84 475.4 L399.83 477.52 L398.83 479.46 L397.83 480.84 L396.83 480.7 L395.82 479.09 L394.82 477.06 L393.82 474.48 L392.82 472.05 L391.81 470.24 L390.81 468.71 L389.81 467.63 L388.81 466.84 L387.8 466.22 L386.8 465.91Z"/>
<path fill="#0000ff" d="M364.3 495.92 L365.29 495.14 L366.27 494.03 L367.25 492.69 L368.24 490.89 L369.23 488.72 L370.21 486.49 L371.19 484.05 L372.18 482.49 L373.17 481.35 L374.15 481.06 L375.13 481.94 L376.12 483.46 L377.11 485.16 L378.09 487.45 L379.07 489.67 L380.06 491.57 L381.05 493.21 L382.03 494.47 L383.01 495.53 L384 496.32 L384 497.32 L383.01 498.1 L382.03 499.17 L381.05 500.43 L380.06 502.06 L379.07 503.97 L378.09 506.19 L377.11 508.48 L376.12 510.17 L375.13 511.7 L374.15 512.57 L373.17 512.29 L372.18 511.14 L371.19 509.58 L370.21 507.14 L369.23 504.91 L368.24 502.75 L367.25 500.95 L366.27 499.61 L365.29 498.5 L364.3 497.72Z"/>
<path fill="#0000ff" d="M377.4 527.82 L378.39 527.69 L379.38 527.55 L380.37 527.4 L381.36 527.23 L382.35 527.06 L383.35 526.88 L384.34 526.68 L385.33 526.46 L386.32 526.21 L387.31 525.93 L388.3 525.61 L389.29 525.26 L390.28 524.89 L391.27 524.48 L392.26 524.05 L393.25 523.58 L394.25 523.05 L395.24 522.45 L396.23 521.75 L397.22 520.86 L398.21 519.83 L399.2 518.74 L400.19 517.59 L401.18 516.3 L402.17 515.14 L403.16 514.33 L404.15 513.72 L405.15 513.26 L406.14 512.86 L407.13 512.63 L408.12 512.75 L409.11 513.08 L410.1 513.5 L411.09 514.12 L412.08 514.91 L413.07 515.94 L414.06 517.17 L415.05 518.46 L416.05 519.68 L417.04 520.79 L418.03 521.9 L419.02 523.05 L420.01 524.26 L421 525.52 L421 531.32 L420.01 532.59 L419.02 533.8 L418.03 534.95 L417.04 536.05 L416.05 537.17 L415.05 538.39 L414.06 539.67 L413.07 540.9 L412.08 541.94 L411.09 542.72 L410.1 543.35 L409.11 543.77 L408.12 544.1 L407.13 544.22 L406.14 543.99 L405.15 543.58 L404.15 543.13 L403.16 542.52 L402.17 541.71 L401.18 540.55 L400.19 539.26 L399.2 538.11 L398.21 537.02 L397.22 535.98 L396.23 535.1 L395.24 534.4 L394.25 533.8 L393.25 533.27 L392.26 532.8 L391.27 532.37 L390.28 531.96 L389.29 531.58 L388.3 531.24 L387.31 530.92 L386.32 530.63 L385.33 530.38 L384.34 530.16 L383.35 529.97 L382.35 529.79 L381.36 529.61 L380.37 529.45 L379.38 529.3 L378.39 529.15 L377.4 529.02Z"/>
<path fill="#0000ff" d="M585 559.63 L586.01 559.53 L587.02 559.27 L588.03 558.9 L589.03 558.46 L590.04 557.98 L591.05 557.27 L592.06 556.37 L593.07 555.36 L594.08 554.22 L595.09 552.88 L596.1 551.47 L597.1 550.09 L598.11 548.63 L599.12 547.2 L600.13 546.12 L601.14 545.3 L602.15 544.75 L603.16 544.42 L604.17 544.24 L605.17 544.31 L606.18 544.59 L607.19 545 L608.2 545.72 L609.21 546.64 L610.22 547.95 L611.23 549.46 L612.23 550.81 L613.24 551.95 L614.25 553.03 L615.26 554.02 L616.27 554.88 L617.28 555.58 L618.29 556.18 L619.3 556.72 L620.3 557.17 L621.31 557.55 L622.32 557.87 L623.33 558.14 L624.34 558.38 L625.35 558.61 L626.36 558.82 L627.37 559.02 L628.37 559.22 L629.38 559.4 L630.39 559.57 L631.4 559.73 L631.4 560.33 L630.39 560.49 L629.38 560.66 L628.37 560.84 L627.37 561.04 L626.36 561.24 L625.35 561.45 L624.34 561.68 L623.33 561.92 L622.32 562.19 L621.31 562.51 L620.3 562.89 L619.3 563.34 L618.29 563.88 L617.28 564.48 L616.27 565.18 L615.26 566.04 L614.25 567.03 L613.24 568.11 L612.23 569.25 L611.23 570.6 L610.22 572.11 L609.21 573.42 L608.2 574.34 L607.19 575.06 L606.18 575.47 L605.17 575.75 L604.17 575.82 L603.16 575.64 L602.15 575.31 L601.14 574.76 L600.13 573.94 L599.12 572.86 L598.11 571.43 L597.1 569.97 L596.1 568.59 L595.09 567.18 L594.08 565.84 L593.07 564.7 L592.06 563.69 L591.05 562.79 L590.04 562.08 L589.03 561.6 L588.03 561.16 L587.02 560.79 L586.01 560.53 L585 560.43Z"/>
<path fill="#ff0000" d="M304.5 591.24 L305.51 590.34 L306.52 588.98 L307.52 587.21 L308.53 584.8 L309.54 582.76 L310.55 580.85 L311.56 579.21 L312.56 577.84 L313.57 576.62 L314.58 576.11 L315.59 575.98 L316.6 575.89 L317.6 575.85 L318.61 575.84 L319.62 575.92 L320.63 576.1 L321.64 576.35 L322.65 576.74 L323.65 577.84 L324.66 579.33 L325.67 580.93 L326.68 582.82 L327.69 584.83 L328.69 586.74 L329.7 587.8 L330.71 588.51 L331.72 589.09 L332.73 589.56 L333.73 590.07 L334.74 590.67 L335.75 591.34 L335.75 591.94 L334.74 592.6 L333.73 593.21 L332.73 593.72 L331.72 594.18 L330.71 594.76 L329.7 595.47 L328.69 596.53 L327.69 598.44 L326.68 600.45 L325.67 602.34 L324.66 603.94 L323.65 605.44 L322.65 606.53 L321.64 606.92 L320.63 607.18 L319.62 607.35 L318.61 607.43 L317.6 607.43 L316.6 607.38 L315.59 607.29 L314.58 607.16 L313.57 606.65 L312.56 605.44 L311.56 604.06 L310.55 602.42 L309.54 600.51 L308.53 598.47 L307.52 596.06 L306.52 594.29 L305.51 592.93 L304.5 592.04Z"/>
<path fill="#ff0000" d="M233.75 622.34 L234.73 621.12 L235.7 619.2 L236.68 616.55 L237.66 613.08 L238.63 609.17 L239.61 607.63 L240.59 611.34 L241.56 614.64 L242.54 617.32 L243.52 619.31 L244.49 620.83 L245.47 621.69 L246.45 622.32 L247.42 622.77 L248.4 622.94 L248.4 623.54 L247.42 623.71 L246.45 624.16 L245.47 624.8 L244.49 625.65 L243.52 627.17 L242.54 629.16 L241.56 631.85 L240.59 635.14 L239.61 638.85 L238.63 637.31 L237.66 633.4 L236.68 629.94 L235.7 627.28 L234.73 625.37 L233.75 624.14Z"/>
<path fill="#ff0000" d="M663.65 652.85 L664.64 652.45 L665.64 652.05 L666.63 651.65 L667.63 651.24 L668.62 650.82 L669.62 650.4 L670.61 649.98 L671.61 649.54 L672.6 649.1 L673.6 648.65 L674.59 648.18 L675.59 647.71 L676.58 647.24 L677.58 646.77 L678.57 646.3 L679.57 645.84 L680.56 645.4 L681.56 644.96 L682.55 644.52 L683.55 644.07 L684.54 643.64 L685.54 643.21 L686.53 642.8 L687.53 642.41 L688.52 642.04 L689.52 641.7 L690.51 641.35 L691.51 641.01 L692.5 640.68 L693.49 640.38 L694.49 640.13 L695.48 639.93 L696.48 639.78 L697.47 639.65 L698.47 639.53 L699.46 639.41 L700.46 639.31 L701.45 639.22 L702.45 639.15 L703.44 639.09 L704.44 639.06 L705.43 639.05 L706.43 639.08 L707.42 639.15 L708.42 639.26 L709.41 639.4 L710.41 639.57 L711.4 639.76 L712.4 639.96 L713.39 640.18 L714.39 640.5 L715.38 640.96 L716.38 641.5 L717.37 642.1 L718.37 642.71 L719.36 643.3 L720.36 643.83 L721.35 644.3 L722.34 644.77 L723.34 645.22 L724.33 645.67 L725.33 646.12 L726.32 646.55 L727.32 646.98 L728.31 647.4 L729.31 647.82 L730.3 648.23 L731.3 648.64 L732.29 649.04 L733.29 649.44 L734.28 649.82 L735.28 650.2 L736.27 650.56 L737.27 650.91 L738.26 651.26 L739.26 651.6 L740.25 651.93 L741.25 652.24 L742.24 652.54 L743.24 652.81 L744.23 653.05 L745.23 653.29 L746.22 653.51 L747.22 653.72 L748.21 653.91 L749.21 654.09 L750.2 654.25 L750.2 655.45 L749.21 655.61 L748.21 655.78 L747.22 655.98 L746.22 656.19 L745.23 656.41 L744.23 656.64 L743.24 656.89 L742.24 657.16 L741.25 657.45 L740.25 657.77 L739.26 658.1 L738.26 658.44 L737.27 658.79 L736.27 659.14 L735.28 659.5 L734.28 659.87 L733.29 660.26 L732.29 660.65 L731.3 661.05 L730.3 661.46 L729.31 661.88 L728.31 662.29 L727.32 662.72 L726.32 663.15 L725.33 663.58 L724.33 664.02 L723.34 664.47 L722.34 664.93 L721.35 665.4 L720.36 665.87 L719.36 666.4 L718.37 666.99 L717.37 667.6 L716.38 668.2 L715.38 668.74 L714.39 669.19 L713.39 669.52 L712.4 669.73 L711.4 669.94 L710.41 670.13 L709.41 670.3 L708.42 670.44 L707.42 670.55 L706.43 670.62 L705.43 670.65 L704.44 670.64 L703.44 670.61 L702.45 670.55 L701.45 670.48 L700.46 670.39 L699.46 670.28 L698.47 670.17 L697.47 670.04 L696.48 669.91 L695.48 669.77 L694.49 669.57 L693.49 669.31 L692.5 669.02 L691.51 668.69 L690.51 668.35 L689.52 668 L688.52 667.65 L687.53 667.29 L686.53 666.9 L685.54 666.49 L684.54 666.06 L683.55 665.62 L682.55 665.18 L681.56 664.74 L680.56 664.3 L679.57 663.85 L678.57 663.39 L677.58 662.93 L676.58 662.45 L675.59 661.98 L674.59 661.51 L673.6 661.05 L672.6 660.59 L671.61 660.15 L670.61 659.72 L669.62 659.29 L668.62 658.87 L667.63 658.46 L666.63 658.05 L665.64 657.64 L664.64 657.24 L663.65 656.85Z"/>
<path fill="#ff0000" d="M278.1 686.05 L279.1 685.95 L280.09 685.68 L281.09 685.26 L282.09 684.75 L283.08 684.07 L284.08 682.83 L285.08 681.4 L286.07 679.81 L287.07 678.14 L288.06 676.46 L289.06 674.84 L290.06 673.44 L291.05 672.22 L292.05 671.46 L293.05 670.91 L294.04 670.65 L295.04 671 L296.04 671.91 L297.03 673.12 L298.03 675.18 L299.02 677.21 L300.02 679.21 L301.02 681.15 L302.01 682.88 L303.01 683.98 L304.01 684.76 L305 685.42 L306 685.95 L306 686.95 L305 687.48 L304.01 688.15 L303.01 688.93 L302.01 690.02 L301.02 691.76 L300.02 693.7 L299.02 695.69 L298.03 697.73 L297.03 699.78 L296.04 701 L295.04 701.91 L294.04 702.25 L293.05 702 L292.05 701.44 L291.05 700.69 L290.06 699.46 L289.06 698.07 L288.06 696.45 L287.07 694.76 L286.07 693.1 L285.08 691.5 L284.08 690.08 L283.08 688.84 L282.09 688.16 L281.09 687.64 L280.09 687.23 L279.1 686.95 L278.1 686.85Z"/>
<path fill="#ff0000" d="M648 717.66 L649 717.43 L650 717.16 L651 716.86 L652 716.53 L653 716.18 L654 715.81 L655 715.42 L656 714.97 L657 714.49 L658 713.97 L659 713.43 L660 712.87 L661 712.3 L662 711.68 L663 711.04 L664 710.39 L665 709.73 L666 709.1 L667 708.46 L668 707.8 L669 707.15 L670 706.52 L671 705.94 L672 705.4 L673 704.87 L674 704.35 L675 703.86 L676 703.45 L677 703.14 L678 702.95 L679 702.78 L680 702.63 L681 702.5 L682 702.39 L683 702.31 L684 702.27 L685 702.26 L686 702.32 L687 702.42 L688 702.56 L689 702.74 L690 702.95 L691 703.17 L692 703.41 L693 703.74 L694 704.18 L695 704.7 L696 705.28 L697 705.89 L698 706.52 L699 707.28 L700 708.09 L701 708.86 L702 709.57 L703 710.28 L704 710.97 L705 711.63 L706 712.26 L707 712.84 L708 713.36 L709 713.86 L710 714.33 L711 714.77 L712 715.17 L713 715.53 L714 715.85 L715 716.16 L716 716.45 L717 716.73 L718 716.98 L719 717.22 L720 717.43 L721 717.61 L722 717.76 L722 718.36 L721 718.51 L720 718.69 L719 718.9 L718 719.14 L717 719.39 L716 719.67 L715 719.96 L714 720.27 L713 720.59 L712 720.95 L711 721.35 L710 721.79 L709 722.26 L708 722.76 L707 723.28 L706 723.86 L705 724.49 L704 725.15 L703 725.84 L702 726.55 L701 727.26 L700 728.03 L699 728.84 L698 729.6 L697 730.23 L696 730.84 L695 731.42 L694 731.94 L693 732.38 L692 732.71 L691 732.95 L690 733.17 L689 733.38 L688 733.56 L687 733.7 L686 733.8 L685 733.86 L684 733.85 L683 733.81 L682 733.73 L681 733.62 L680 733.49 L679 733.34 L678 733.17 L677 732.98 L676 732.67 L675 732.26 L674 731.77 L673 731.25 L672 730.72 L671 730.18 L670 729.6 L669 728.97 L668 728.32 L667 727.66 L666 727.02 L665 726.39 L664 725.73 L663 725.08 L662 724.44 L661 723.82 L660 723.25 L659 722.69 L658 722.15 L657 721.63 L656 721.15 L655 720.7 L654 720.31 L653 719.94 L652 719.59 L651 719.26 L650 718.96 L649 718.69 L648 718.46Z"/>
<path fill="#ff0000" d="M634.9 749.27 L635.9 749.13 L636.89 748.98 L637.89 748.84 L638.88 748.69 L639.88 748.54 L640.87 748.39 L641.87 748.24 L642.86 748.08 L643.86 747.92 L644.86 747.77 L645.85 747.62 L646.85 747.47 L647.84 747.31 L648.84 747.14 L649.83 746.95 L650.83 746.75 L651.83 746.52 L652.82 746.26 L653.82 745.97 L654.81 745.67 L655.81 745.35 L656.8 745.03 L657.8 744.7 L658.79 744.37 L659.79 744.04 L660.79 743.67 L661.78 743.26 L662.78 742.78 L663.77 742.19 L664.77 741.56 L665.76 740.9 L666.76 740.27 L667.75 739.63 L668.75 738.97 L669.75 738.31 L670.74 737.67 L671.74 737.08 L672.73 736.53 L673.73 735.98 L674.72 735.45 L675.72 734.98 L676.72 734.62 L677.71 734.38 L678.71 734.18 L679.7 734.02 L680.7 733.91 L681.69 733.87 L682.69 733.91 L683.68 734.04 L684.68 734.21 L685.68 734.43 L686.67 734.66 L687.67 734.97 L688.66 735.4 L689.66 735.93 L690.65 736.52 L691.65 737.14 L692.65 737.75 L693.64 738.33 L694.64 738.86 L695.63 739.41 L696.63 739.96 L697.62 740.5 L698.62 741.04 L699.61 741.55 L700.61 742.03 L701.61 742.48 L702.6 742.92 L703.6 743.33 L704.59 743.74 L705.59 744.12 L706.58 744.49 L707.58 744.84 L708.57 745.17 L709.57 745.49 L710.57 745.79 L711.56 746.07 L712.56 746.35 L713.55 746.61 L714.55 746.86 L715.54 747.1 L716.54 747.32 L717.54 747.53 L718.53 747.73 L719.53 747.93 L720.52 748.13 L721.52 748.33 L722.51 748.54 L723.51 748.75 L724.5 748.96 L725.5 749.17 L725.5 750.17 L724.5 750.38 L723.51 750.58 L722.51 750.79 L721.52 751 L720.52 751.2 L719.53 751.4 L718.53 751.6 L717.54 751.8 L716.54 752.01 L715.54 752.23 L714.55 752.47 L713.55 752.72 L712.56 752.98 L711.56 753.26 L710.57 753.55 L709.57 753.85 L708.57 754.16 L707.58 754.49 L706.58 754.84 L705.59 755.21 L704.59 755.59 L703.6 756 L702.6 756.42 L701.61 756.85 L700.61 757.3 L699.61 757.78 L698.62 758.29 L697.62 758.83 L696.63 759.38 L695.63 759.93 L694.64 760.47 L693.64 761.01 L692.65 761.58 L691.65 762.2 L690.65 762.81 L689.66 763.4 L688.66 763.93 L687.67 764.37 L686.67 764.67 L685.68 764.91 L684.68 765.12 L683.68 765.3 L682.69 765.42 L681.69 765.47 L680.7 765.43 L679.7 765.31 L678.71 765.15 L677.71 764.95 L676.72 764.72 L675.72 764.35 L674.72 763.88 L673.73 763.35 L672.73 762.8 L671.74 762.26 L670.74 761.66 L669.75 761.02 L668.75 760.37 L667.75 759.71 L666.76 759.07 L665.76 758.43 L664.77 757.78 L663.77 757.14 L662.78 756.56 L661.78 756.07 L660.79 755.66 L659.79 755.3 L658.79 754.96 L657.8 754.63 L656.8 754.3 L655.81 753.98 L654.81 753.66 L653.82 753.36 L652.82 753.08 L651.83 752.81 L650.83 752.58 L649.83 752.38 L648.84 752.19 L647.84 752.02 L646.85 751.87 L645.85 751.71 L644.86 751.56 L643.86 751.41 L642.86 751.25 L641.87 751.09 L640.87 750.94 L639.88 750.79 L638.88 750.64 L637.89 750.49 L636.89 750.35 L635.9 750.21 L634.9 750.07Z"/>
<path fill="#0000ff" d="M572 780.67 L573 780.33 L574 779.88 L574.99 779.35 L575.99 778.76 L576.99 778.1 L577.99 777.26 L578.99 776.29 L579.99 775.3 L580.98 774.4 L581.98 773.58 L582.98 772.8 L583.98 772.03 L584.98 771.29 L585.97 770.55 L586.97 769.81 L587.97 769.1 L588.97 768.44 L589.97 767.87 L590.97 767.3 L591.96 766.78 L592.96 766.35 L593.96 766.06 L594.96 765.85 L595.96 765.67 L596.95 765.54 L597.95 765.47 L598.95 765.51 L599.95 765.65 L600.95 765.87 L601.95 766.17 L602.94 766.52 L603.94 766.89 L604.94 767.42 L605.94 768.16 L606.94 769.02 L607.93 769.9 L608.93 770.76 L609.93 771.68 L610.93 772.61 L611.93 773.54 L612.93 774.51 L613.92 775.45 L614.92 776.31 L615.92 777.05 L616.92 777.75 L617.92 778.39 L618.91 778.93 L619.91 779.33 L620.91 779.66 L621.91 779.98 L622.91 780.27 L623.91 780.51 L624.9 780.7 L625.9 780.83 L626.9 780.87 L626.9 781.67 L625.9 781.72 L624.9 781.84 L623.91 782.03 L622.91 782.28 L621.91 782.57 L620.91 782.88 L619.91 783.22 L618.91 783.61 L617.92 784.15 L616.92 784.8 L615.92 785.5 L614.92 786.24 L613.92 787.09 L612.93 788.03 L611.93 789 L610.93 789.94 L609.93 790.86 L608.93 791.78 L607.93 792.64 L606.94 793.52 L605.94 794.38 L604.94 795.13 L603.94 795.66 L602.94 796.03 L601.95 796.37 L600.95 796.67 L599.95 796.9 L598.95 797.04 L597.95 797.07 L596.95 797.01 L595.96 796.87 L594.96 796.69 L593.96 796.48 L592.96 796.19 L591.96 795.76 L590.97 795.24 L589.97 794.68 L588.97 794.1 L587.97 793.45 L586.97 792.74 L585.97 792 L584.98 791.25 L583.98 790.51 L582.98 789.75 L581.98 788.96 L580.98 788.14 L579.99 787.24 L578.99 786.25 L577.99 785.29 L576.99 784.44 L575.99 783.79 L574.99 783.19 L574 782.66 L573 782.22 L572 781.87Z"/>
<path fill="#0000ff" d="M554.8 812.48 L555.81 812.33 L556.81 812.12 L557.82 811.86 L558.83 811.57 L559.83 811.25 L560.84 810.9 L561.85 810.51 L562.85 810.04 L563.86 809.5 L564.87 808.92 L565.87 808.3 L566.88 807.58 L567.89 806.74 L568.89 805.83 L569.9 804.91 L570.9 804.04 L571.91 803.27 L572.92 802.59 L573.92 801.95 L574.93 801.34 L575.94 800.78 L576.94 800.25 L577.95 799.72 L578.96 799.2 L579.96 798.71 L580.97 798.29 L581.98 797.97 L582.98 797.77 L583.99 797.58 L585 797.41 L586 797.27 L587.01 797.17 L588.02 797.1 L589.02 797.08 L590.03 797.21 L591.04 797.52 L592.04 797.94 L593.05 798.44 L594.06 798.96 L595.06 799.63 L596.07 800.48 L597.08 801.39 L598.08 802.33 L599.09 803.38 L600.1 804.36 L601.1 805.27 L602.11 806.14 L603.11 806.95 L604.12 807.66 L605.13 808.3 L606.13 808.9 L607.14 809.44 L608.15 809.91 L609.15 810.33 L610.16 810.7 L611.17 811.04 L612.17 811.35 L613.18 811.64 L614.19 811.91 L615.19 812.16 L616.2 812.38 L616.2 813.38 L615.19 813.6 L614.19 813.84 L613.18 814.11 L612.17 814.4 L611.17 814.71 L610.16 815.05 L609.15 815.43 L608.15 815.84 L607.14 816.32 L606.13 816.86 L605.13 817.45 L604.12 818.1 L603.11 818.81 L602.11 819.62 L601.1 820.48 L600.1 821.39 L599.09 822.38 L598.08 823.42 L597.08 824.36 L596.07 825.28 L595.06 826.12 L594.06 826.8 L593.05 827.31 L592.04 827.81 L591.04 828.24 L590.03 828.54 L589.02 828.68 L588.02 828.66 L587.01 828.59 L586 828.48 L585 828.34 L583.99 828.17 L582.98 827.99 L581.98 827.78 L580.97 827.47 L579.96 827.05 L578.96 826.56 L577.95 826.03 L576.94 825.5 L575.94 824.98 L574.93 824.41 L573.92 823.81 L572.92 823.17 L571.91 822.49 L570.9 821.72 L569.9 820.84 L568.89 819.93 L567.89 819.02 L566.88 818.18 L565.87 817.46 L564.87 816.84 L563.86 816.25 L562.85 815.72 L561.85 815.25 L560.84 814.86 L559.83 814.51 L558.83 814.19 L557.82 813.89 L556.81 813.64 L555.81 813.43 L554.8 813.28Z"/>
<path fill="#0000ff" d="M509 843.88 L510 843.61 L511 843.28 L511.99 842.89 L512.99 842.46 L513.99 841.98 L514.99 841.47 L515.99 840.85 L516.99 840.16 L517.98 839.44 L518.98 838.72 L519.98 837.96 L520.98 837.16 L521.98 836.37 L522.98 835.6 L523.97 834.87 L524.97 834.14 L525.97 833.44 L526.97 832.76 L527.97 832.11 L528.97 831.45 L529.96 830.82 L530.96 830.28 L531.96 829.9 L532.96 829.57 L533.96 829.26 L534.96 829 L535.95 828.8 L536.95 828.7 L537.95 828.72 L538.95 828.93 L539.95 829.31 L540.94 829.79 L541.94 830.32 L542.94 830.85 L543.94 831.39 L544.94 832.03 L545.94 832.73 L546.93 833.47 L547.93 834.21 L548.93 834.98 L549.93 835.79 L550.93 836.61 L551.93 837.42 L552.92 838.26 L553.92 839.13 L554.92 839.96 L555.92 840.67 L556.92 841.25 L557.92 841.78 L558.91 842.25 L559.91 842.63 L560.91 842.93 L561.91 843.21 L562.91 843.46 L563.91 843.69 L564.9 843.87 L565.9 844.01 L566.9 844.08 L566.9 844.88 L565.9 844.96 L564.9 845.09 L563.91 845.28 L562.91 845.51 L561.91 845.76 L560.91 846.04 L559.91 846.34 L558.91 846.72 L557.92 847.18 L556.92 847.71 L555.92 848.29 L554.92 849.01 L553.92 849.84 L552.92 850.71 L551.93 851.54 L550.93 852.36 L549.93 853.18 L548.93 853.99 L547.93 854.76 L546.93 855.5 L545.94 856.24 L544.94 856.94 L543.94 857.58 L542.94 858.12 L541.94 858.65 L540.94 859.18 L539.95 859.66 L538.95 860.03 L537.95 860.25 L536.95 860.27 L535.95 860.17 L534.96 859.97 L533.96 859.71 L532.96 859.4 L531.96 859.07 L530.96 858.69 L529.96 858.15 L528.97 857.52 L527.97 856.85 L526.97 856.21 L525.97 855.53 L524.97 854.83 L523.97 854.1 L522.98 853.37 L521.98 852.6 L520.98 851.81 L519.98 851.01 L518.98 850.25 L517.98 849.53 L516.99 848.8 L515.99 848.11 L514.99 847.5 L513.99 846.98 L512.99 846.51 L511.99 846.08 L511 845.69 L510 845.35 L509 845.08Z"/>
<path fill="#0000ff" d="M221.9 875.79 L222.88 875.72 L223.86 875.52 L224.84 875.24 L225.82 874.78 L226.81 873.88 L227.79 871.72 L228.77 868.05 L229.75 863.56 L230.73 860.51 L231.71 861.64 L232.69 864.99 L233.68 868.84 L234.66 872.57 L235.64 874.33 L236.62 875.38 L237.6 875.79 L237.6 876.39 L236.62 876.8 L235.64 877.85 L234.66 879.61 L233.68 883.34 L232.69 887.19 L231.71 890.54 L230.73 891.67 L229.75 888.62 L228.77 884.13 L227.79 880.46 L226.81 878.3 L225.82 877.4 L224.84 876.94 L223.86 876.66 L222.88 876.46 L221.9 876.39Z"/>
<path fill="#ff0000" d="M236.7 907.3 L237.7 906.7 L238.71 905.74 L239.71 904.55 L240.71 903.09 L241.71 900.98 L242.72 897.06 L243.72 892.32 L244.72 894.85 L245.73 899.42 L246.73 902.26 L247.73 903.7 L248.74 904.71 L249.74 905.48 L250.74 906.07 L251.74 906.59 L252.75 907.01 L253.75 907.3 L253.75 908.1 L252.75 908.38 L251.74 908.8 L250.74 909.32 L249.74 909.91 L248.74 910.68 L247.73 911.69 L246.73 913.13 L245.73 915.97 L244.72 920.54 L243.72 923.07 L242.72 918.34 L241.71 914.41 L240.71 912.31 L239.71 910.84 L238.71 909.66 L237.7 908.69 L236.7 908.1Z"/>
<path fill="#ff0000" d="M394.05 938.9 L395.05 938.46 L396.05 937.47 L397.06 936.18 L398.06 934.01 L399.06 931.37 L400.06 928.1 L401.06 925.58 L402.07 923.79 L403.07 923.78 L404.07 925.47 L405.07 927.66 L406.08 930.44 L407.08 933.06 L408.08 935.02 L409.08 936.49 L410.08 937.47 L411.09 937.85 L412.09 938.09 L413.09 938.28 L414.09 938.47 L415.09 938.65 L416.1 938.82 L417.1 938.97 L418.1 939.1 L418.1 939.5 L417.1 939.63 L416.1 939.78 L415.09 939.95 L414.09 940.14 L413.09 940.32 L412.09 940.51 L411.09 940.75 L410.08 941.14 L409.08 942.12 L408.08 943.58 L407.08 945.54 L406.08 948.16 L405.07 950.95 L404.07 953.13 L403.07 954.82 L402.07 954.82 L401.06 953.02 L400.06 950.5 L399.06 947.23 L398.06 944.59 L397.06 942.42 L396.05 941.13 L395.05 940.15 L394.05 939.7Z"/>
<path fill="#0000ff" d="M451.7 969.41 L452.7 968.03 L453.71 966.78 L454.71 965.69 L455.72 964.75 L456.72 963.9 L457.72 963.09 L458.73 962.33 L459.73 961.52 L460.74 960.59 L461.74 959.59 L462.74 958.53 L463.75 957.28 L464.75 956.26 L465.76 955.74 L466.76 955.33 L467.76 955.12 L468.77 955.26 L469.77 955.87 L470.78 956.79 L471.78 958.92 L472.78 960.96 L473.79 962.99 L474.79 965.3 L475.8 967.34 L476.8 968.91 L476.8 972.91 L475.8 974.47 L474.79 976.51 L473.79 978.83 L472.78 980.85 L471.78 982.89 L470.78 985.02 L469.77 985.95 L468.77 986.56 L467.76 986.7 L466.76 986.48 L465.76 986.08 L464.75 985.55 L463.75 984.53 L462.74 983.29 L461.74 982.23 L460.74 981.22 L459.73 980.29 L458.73 979.48 L457.72 978.72 L456.72 977.92 L455.72 977.06 L454.71 976.12 L453.71 975.03 L452.7 973.79 L451.7 972.41Z"/>
<path fill="#ff0000" d="M323.5 1002.21 L324.51 1002.17 L325.52 1002.06 L326.53 1001.89 L327.53 1001.67 L328.54 1001.41 L329.55 1001.12 L330.56 1000.81 L331.57 1000.33 L332.58 999.7 L333.59 998.97 L334.59 998.23 L335.6 997.46 L336.61 996.6 L337.62 995.69 L338.63 994.76 L339.64 993.85 L340.65 992.93 L341.66 991.98 L342.66 991.07 L343.67 990.27 L344.68 989.57 L345.69 988.89 L346.7 988.3 L347.71 987.84 L348.72 987.54 L349.72 987.29 L350.73 987.07 L351.74 986.89 L352.75 986.77 L353.76 986.71 L354.77 986.75 L355.78 986.85 L356.78 987.02 L357.79 987.23 L358.8 987.48 L359.81 987.76 L360.82 988.17 L361.83 988.73 L362.84 989.38 L363.84 990.1 L364.85 990.93 L365.86 991.93 L366.87 992.98 L367.88 994.03 L368.89 995.11 L369.9 996.18 L370.91 997.16 L371.91 998.09 L372.92 998.96 L373.93 999.71 L374.94 1000.33 L375.95 1000.89 L376.96 1001.34 L377.97 1001.64 L378.97 1001.89 L379.98 1002.11 L380.99 1002.26 L382 1002.31 L382 1002.71 L380.99 1002.77 L379.98 1002.92 L378.97 1003.13 L377.97 1003.39 L376.96 1003.69 L375.95 1004.14 L374.94 1004.7 L373.93 1005.32 L372.92 1006.07 L371.91 1006.94 L370.91 1007.87 L369.9 1008.85 L368.89 1009.91 L367.88 1011 L366.87 1012.04 L365.86 1013.09 L364.85 1014.1 L363.84 1014.93 L362.84 1015.64 L361.83 1016.3 L360.82 1016.86 L359.81 1017.27 L358.8 1017.55 L357.79 1017.79 L356.78 1018.01 L355.78 1018.18 L354.77 1018.28 L353.76 1018.31 L352.75 1018.26 L351.74 1018.14 L350.73 1017.96 L349.72 1017.74 L348.72 1017.49 L347.71 1017.19 L346.7 1016.73 L345.69 1016.14 L344.68 1015.46 L343.67 1014.76 L342.66 1013.96 L341.66 1013.04 L340.65 1012.09 L339.64 1011.18 L338.63 1010.26 L337.62 1009.33 L336.61 1008.43 L335.6 1007.57 L334.59 1006.8 L333.59 1006.05 L332.58 1005.33 L331.57 1004.7 L330.56 1004.22 L329.55 1003.9 L328.54 1003.62 L327.53 1003.36 L326.53 1003.14 L325.52 1002.96 L324.51 1002.85 L323.5 1002.81Z"/>
<path fill="#ff0000" d="M435.1 1033.82 L436.1 1033.7 L437.1 1033.56 L438.1 1033.4 L439.1 1033.22 L440.1 1033.03 L441.1 1032.83 L442.1 1032.62 L443.11 1032.4 L444.11 1032.16 L445.11 1031.9 L446.11 1031.62 L447.11 1031.31 L448.11 1030.99 L449.11 1030.63 L450.11 1030.26 L451.11 1029.84 L452.11 1029.37 L453.11 1028.85 L454.11 1028.3 L455.11 1027.71 L456.11 1027.09 L457.11 1026.46 L458.11 1025.81 L459.12 1025.08 L460.12 1024.28 L461.12 1023.46 L462.12 1022.68 L463.12 1022.01 L464.12 1021.39 L465.12 1020.78 L466.12 1020.21 L467.12 1019.72 L468.12 1019.33 L469.12 1019.08 L470.12 1018.88 L471.12 1018.71 L472.12 1018.56 L473.12 1018.44 L474.12 1018.36 L475.13 1018.32 L476.13 1018.34 L477.13 1018.39 L478.13 1018.49 L479.13 1018.62 L480.13 1018.77 L481.13 1018.96 L482.13 1019.17 L483.13 1019.39 L484.13 1019.72 L485.13 1020.26 L486.13 1020.93 L487.13 1021.68 L488.13 1022.42 L489.13 1023.11 L490.13 1023.77 L491.14 1024.46 L492.14 1025.14 L493.14 1025.82 L494.14 1026.46 L495.14 1027.06 L496.14 1027.62 L497.14 1028.17 L498.14 1028.69 L499.14 1029.18 L500.14 1029.66 L501.14 1030.11 L502.14 1030.56 L503.14 1030.99 L504.14 1031.4 L505.14 1031.77 L506.14 1032.09 L507.15 1032.37 L508.15 1032.64 L509.15 1032.9 L510.15 1033.13 L511.15 1033.35 L512.15 1033.53 L513.15 1033.69 L514.15 1033.82 L514.15 1034.42 L513.15 1034.55 L512.15 1034.71 L511.15 1034.89 L510.15 1035.11 L509.15 1035.34 L508.15 1035.6 L507.15 1035.87 L506.14 1036.15 L505.14 1036.47 L504.14 1036.84 L503.14 1037.25 L502.14 1037.68 L501.14 1038.13 L500.14 1038.58 L499.14 1039.06 L498.14 1039.55 L497.14 1040.07 L496.14 1040.62 L495.14 1041.18 L494.14 1041.78 L493.14 1042.42 L492.14 1043.1 L491.14 1043.78 L490.13 1044.47 L489.13 1045.13 L488.13 1045.82 L487.13 1046.56 L486.13 1047.31 L485.13 1047.98 L484.13 1048.52 L483.13 1048.85 L482.13 1049.07 L481.13 1049.28 L480.13 1049.47 L479.13 1049.62 L478.13 1049.75 L477.13 1049.85 L476.13 1049.9 L475.13 1049.92 L474.12 1049.88 L473.12 1049.8 L472.12 1049.68 L471.12 1049.53 L470.12 1049.36 L469.12 1049.16 L468.12 1048.91 L467.12 1048.52 L466.12 1048.03 L465.12 1047.46 L464.12 1046.85 L463.12 1046.23 L462.12 1045.56 L461.12 1044.78 L460.12 1043.96 L459.12 1043.16 L458.11 1042.43 L457.11 1041.78 L456.11 1041.15 L455.11 1040.53 L454.11 1039.94 L453.11 1039.39 L452.11 1038.87 L451.11 1038.4 L450.11 1037.98 L449.11 1037.61 L448.11 1037.25 L447.11 1036.93 L446.11 1036.62 L445.11 1036.34 L444.11 1036.08 L443.11 1035.84 L442.1 1035.62 L441.1 1035.41 L440.1 1035.21 L439.1 1035.02 L438.1 1034.84 L437.1 1034.68 L436.1 1034.54 L435.1 1034.42Z"/>
<path fill="#ff0000" d="M292.9 1065.33 L293.9 1065.21 L294.9 1065.03 L295.9 1064.8 L296.9 1064.52 L297.89 1064.21 L298.89 1063.86 L299.89 1063.5 L300.89 1063.1 L301.89 1062.59 L302.89 1062 L303.89 1061.36 L304.89 1060.69 L305.89 1059.96 L306.89 1059.14 L307.88 1058.24 L308.88 1057.16 L309.88 1055.9 L310.88 1054.63 L311.88 1053.54 L312.88 1052.46 L313.88 1051.47 L314.88 1050.76 L315.88 1050.4 L316.87 1050.13 L317.87 1049.96 L318.87 1049.94 L319.87 1050.14 L320.87 1050.52 L321.87 1051.02 L322.87 1051.71 L323.87 1053.03 L324.87 1054.6 L325.87 1056.01 L326.86 1057.42 L327.86 1058.68 L328.86 1059.71 L329.86 1060.64 L330.86 1061.45 L331.86 1062.09 L332.86 1062.61 L333.86 1063.07 L334.86 1063.46 L335.85 1063.78 L336.85 1064.05 L337.85 1064.29 L338.85 1064.5 L339.85 1064.69 L340.85 1064.87 L341.85 1065.03 L342.85 1065.21 L343.85 1065.39 L344.85 1065.53 L345.84 1065.6 L346.84 1065.61 L347.84 1065.61 L348.84 1065.62 L349.84 1065.62 L350.84 1065.63 L351.84 1065.63 L352.84 1065.63 L353.84 1065.63 L354.83 1065.64 L355.83 1065.64 L356.83 1065.64 L357.83 1065.64 L358.83 1065.64 L359.83 1065.64 L360.83 1065.64 L361.83 1065.64 L362.83 1065.65 L363.83 1065.65 L364.82 1065.65 L365.82 1065.65 L366.82 1065.63 L367.82 1065.59 L368.82 1065.53 L369.82 1065.45 L370.82 1065.37 L371.82 1065.29 L372.82 1065.21 L373.81 1065.11 L374.81 1065.01 L375.81 1064.91 L376.81 1064.85 L377.81 1064.83 L378.81 1064.84 L379.81 1064.89 L380.81 1064.94 L381.81 1065.01 L382.81 1065.08 L383.8 1065.14 L384.8 1065.21 L385.8 1065.28 L386.8 1065.35 L387.8 1065.43 L387.8 1066.03 L386.8 1066.1 L385.8 1066.17 L384.8 1066.24 L383.8 1066.31 L382.81 1066.37 L381.81 1066.44 L380.81 1066.51 L379.81 1066.57 L378.81 1066.61 L377.81 1066.63 L376.81 1066.6 L375.81 1066.54 L374.81 1066.44 L373.81 1066.34 L372.82 1066.24 L371.82 1066.16 L370.82 1066.09 L369.82 1066 L368.82 1065.93 L367.82 1065.86 L366.82 1065.82 L365.82 1065.81 L364.82 1065.81 L363.83 1065.81 L362.83 1065.81 L361.83 1065.81 L360.83 1065.81 L359.83 1065.81 L358.83 1065.81 L357.83 1065.81 L356.83 1065.81 L355.83 1065.81 L354.83 1065.82 L353.84 1065.82 L352.84 1065.82 L351.84 1065.82 L350.84 1065.83 L349.84 1065.83 L348.84 1065.83 L347.84 1065.84 L346.84 1065.84 L345.84 1065.85 L344.85 1065.92 L343.85 1066.06 L342.85 1066.24 L341.85 1066.42 L340.85 1066.58 L339.85 1066.76 L338.85 1066.95 L337.85 1067.16 L336.85 1067.4 L335.85 1067.67 L334.86 1067.99 L333.86 1068.38 L332.86 1068.84 L331.86 1069.36 L330.86 1070.01 L329.86 1070.81 L328.86 1071.74 L327.86 1072.77 L326.86 1074.03 L325.87 1075.44 L324.87 1076.85 L323.87 1078.42 L322.87 1079.75 L321.87 1080.43 L320.87 1080.93 L319.87 1081.31 L318.87 1081.51 L317.87 1081.49 L316.87 1081.32 L315.88 1081.05 L314.88 1080.69 L313.88 1079.98 L312.88 1078.99 L311.88 1077.92 L310.88 1076.82 L309.88 1075.56 L308.88 1074.29 L307.88 1073.22 L306.89 1072.31 L305.89 1071.49 L304.89 1070.76 L303.89 1070.09 L302.89 1069.45 L301.89 1068.86 L300.89 1068.36 L299.89 1067.95 L298.89 1067.59 L297.89 1067.25 L296.9 1066.93 L295.9 1066.65 L294.9 1066.42 L293.9 1066.24 L292.9 1066.13Z"/>
<path fill="#ff0000" d="M220.8 1096.93 L221.81 1096.58 L222.81 1096.07 L223.82 1095.46 L224.82 1094.78 L225.83 1093.96 L226.84 1092.94 L227.84 1091.71 L228.85 1090.03 L229.85 1088.21 L230.86 1086.37 L231.87 1084.57 L232.87 1083.37 L233.88 1082.45 L234.88 1081.77 L235.89 1081.53 L236.9 1081.91 L237.9 1082.73 L238.91 1083.75 L239.92 1085.37 L240.92 1087.31 L241.93 1089.06 L242.93 1090.7 L243.94 1092.06 L244.95 1093.28 L245.95 1094.23 L246.96 1094.87 L247.96 1095.39 L248.97 1095.8 L249.98 1096.13 L250.98 1096.43 L251.99 1096.69 L252.99 1096.9 L254 1097.03 L254 1097.63 L252.99 1097.76 L251.99 1097.97 L250.98 1098.23 L249.98 1098.53 L248.97 1098.86 L247.96 1099.28 L246.96 1099.79 L245.95 1100.44 L244.95 1101.38 L243.94 1102.61 L242.93 1103.97 L241.93 1105.6 L240.92 1107.36 L239.92 1109.29 L238.91 1110.91 L237.9 1111.93 L236.9 1112.75 L235.89 1113.13 L234.88 1112.89 L233.88 1112.21 L232.87 1111.29 L231.87 1110.09 L230.86 1108.3 L229.85 1106.46 L228.85 1104.64 L227.84 1102.96 L226.84 1101.73 L225.83 1100.71 L224.82 1099.88 L223.82 1099.2 L222.81 1098.59 L221.81 1098.09 L220.8 1097.73Z"/>
<path fill="#ff0000" d="M688 1128.54 L689 1128.31 L690 1128.07 L691 1127.83 L692 1127.58 L692.99 1127.32 L693.99 1127.06 L694.99 1126.79 L695.99 1126.51 L696.99 1126.24 L697.99 1125.96 L698.99 1125.68 L699.99 1125.39 L700.98 1125.08 L701.98 1124.74 L702.98 1124.38 L703.98 1123.98 L704.98 1123.52 L705.98 1123.01 L706.98 1122.49 L707.98 1121.95 L708.97 1121.43 L709.97 1120.89 L710.97 1120.34 L711.97 1119.78 L712.97 1119.23 L713.97 1118.68 L714.97 1118.14 L715.97 1117.6 L716.96 1117.05 L717.96 1116.52 L718.96 1116.02 L719.96 1115.57 L720.96 1115.18 L721.96 1114.81 L722.96 1114.46 L723.96 1114.14 L724.95 1113.87 L725.95 1113.66 L726.95 1113.5 L727.95 1113.34 L728.95 1113.22 L729.95 1113.15 L730.95 1113.15 L731.95 1113.21 L732.94 1113.33 L733.94 1113.48 L734.94 1113.67 L735.94 1113.88 L736.94 1114.09 L737.94 1114.31 L738.94 1114.59 L739.94 1114.91 L740.93 1115.28 L741.93 1115.68 L742.93 1116.09 L743.93 1116.5 L744.93 1116.91 L745.93 1117.32 L746.93 1117.75 L747.93 1118.19 L748.92 1118.65 L749.92 1119.11 L750.92 1119.58 L751.92 1120.05 L752.92 1120.53 L753.92 1121.01 L754.92 1121.51 L755.92 1122.02 L756.91 1122.53 L757.91 1123.05 L758.91 1123.59 L759.91 1124.16 L760.91 1124.73 L761.91 1125.28 L762.91 1125.8 L763.91 1126.27 L764.9 1126.73 L765.9 1127.16 L766.9 1127.58 L767.9 1127.97 L768.9 1128.34 L768.9 1129.54 L767.9 1129.91 L766.9 1130.3 L765.9 1130.71 L764.9 1131.15 L763.91 1131.6 L762.91 1132.08 L761.91 1132.6 L760.91 1133.15 L759.91 1133.72 L758.91 1134.28 L757.91 1134.83 L756.91 1135.35 L755.92 1135.86 L754.92 1136.36 L753.92 1136.86 L752.92 1137.35 L751.92 1137.83 L750.92 1138.3 L749.92 1138.77 L748.92 1139.23 L747.93 1139.68 L746.93 1140.12 L745.93 1140.55 L744.93 1140.97 L743.93 1141.37 L742.93 1141.79 L741.93 1142.2 L740.93 1142.6 L739.94 1142.97 L738.94 1143.29 L737.94 1143.56 L736.94 1143.78 L735.94 1144 L734.94 1144.2 L733.94 1144.39 L732.94 1144.55 L731.95 1144.66 L730.95 1144.73 L729.95 1144.73 L728.95 1144.66 L727.95 1144.54 L726.95 1144.38 L725.95 1144.21 L724.95 1144 L723.96 1143.73 L722.96 1143.42 L721.96 1143.07 L720.96 1142.69 L719.96 1142.3 L718.96 1141.86 L717.96 1141.36 L716.96 1140.83 L715.97 1140.28 L714.97 1139.73 L713.97 1139.2 L712.97 1138.65 L711.97 1138.09 L710.97 1137.53 L709.97 1136.98 L708.97 1136.45 L707.98 1135.92 L706.98 1135.39 L705.98 1134.86 L704.98 1134.36 L703.98 1133.9 L702.98 1133.49 L701.98 1133.13 L700.98 1132.8 L699.99 1132.49 L698.99 1132.2 L697.99 1131.91 L696.99 1131.64 L695.99 1131.36 L694.99 1131.09 L693.99 1130.82 L692.99 1130.56 L692 1130.3 L691 1130.05 L690 1129.8 L689 1129.57 L688 1129.34Z"/>
<path fill="#ff0000" d="M652 1160.14 L652.99 1159.96 L653.99 1159.75 L654.98 1159.53 L655.97 1159.28 L656.97 1159.03 L657.96 1158.76 L658.95 1158.47 L659.95 1158.18 L660.94 1157.87 L661.93 1157.54 L662.93 1157.19 L663.92 1156.8 L664.91 1156.37 L665.91 1155.9 L666.9 1155.34 L667.89 1154.73 L668.89 1154.06 L669.88 1153.37 L670.87 1152.67 L671.86 1151.97 L672.86 1151.24 L673.85 1150.45 L674.84 1149.65 L675.84 1148.91 L676.83 1148.27 L677.82 1147.67 L678.82 1147.08 L679.81 1146.54 L680.8 1146.07 L681.8 1145.7 L682.79 1145.46 L683.78 1145.26 L684.78 1145.07 L685.77 1144.92 L686.76 1144.81 L687.76 1144.75 L688.75 1144.76 L689.74 1144.85 L690.74 1145.02 L691.73 1145.24 L692.72 1145.51 L693.72 1145.79 L694.71 1146.14 L695.7 1146.64 L696.7 1147.24 L697.69 1147.92 L698.68 1148.63 L699.68 1149.33 L700.67 1150.05 L701.66 1150.85 L702.66 1151.65 L703.65 1152.4 L704.64 1153.07 L705.64 1153.7 L706.63 1154.31 L707.62 1154.88 L708.61 1155.41 L709.61 1155.88 L710.6 1156.3 L711.59 1156.68 L712.59 1157.03 L713.58 1157.36 L714.57 1157.67 L715.57 1157.96 L716.56 1158.25 L717.55 1158.52 L718.55 1158.77 L719.54 1159.02 L720.53 1159.24 L721.53 1159.45 L722.52 1159.65 L723.51 1159.83 L724.51 1159.99 L725.5 1160.14 L725.5 1160.94 L724.51 1161.1 L723.51 1161.26 L722.52 1161.44 L721.53 1161.64 L720.53 1161.85 L719.54 1162.07 L718.55 1162.31 L717.55 1162.57 L716.56 1162.84 L715.57 1163.12 L714.57 1163.42 L713.58 1163.73 L712.59 1164.06 L711.59 1164.41 L710.6 1164.79 L709.61 1165.21 L708.61 1165.68 L707.62 1166.2 L706.63 1166.78 L705.64 1167.39 L704.64 1168.02 L703.65 1168.68 L702.66 1169.43 L701.66 1170.24 L700.67 1171.03 L699.68 1171.76 L698.68 1172.46 L697.69 1173.16 L696.7 1173.84 L695.7 1174.45 L694.71 1174.95 L693.72 1175.3 L692.72 1175.58 L691.73 1175.84 L690.74 1176.07 L689.74 1176.23 L688.75 1176.33 L687.76 1176.34 L686.76 1176.28 L685.77 1176.17 L684.78 1176.02 L683.78 1175.83 L682.79 1175.63 L681.8 1175.39 L680.8 1175.02 L679.81 1174.55 L678.82 1174.01 L677.82 1173.42 L676.83 1172.82 L675.84 1172.18 L674.84 1171.43 L673.85 1170.64 L672.86 1169.85 L671.86 1169.12 L670.87 1168.42 L669.88 1167.72 L668.89 1167.03 L667.89 1166.36 L666.9 1165.75 L665.91 1165.19 L664.91 1164.71 L663.92 1164.29 L662.93 1163.9 L661.93 1163.54 L660.94 1163.21 L659.95 1162.91 L658.95 1162.61 L657.96 1162.33 L656.97 1162.06 L655.97 1161.8 L654.98 1161.56 L653.99 1161.34 L652.99 1161.13 L652 1160.94Z"/>
</g>
<g stroke="#b0b0b0" stroke-width="1.11" fill="none">
<path d="M229.5 54.5V1192.5"/>
<path d="M329.5 54.5V1192.5"/>
<path d="M430.5 54.5V1192.5"/>
<path d="M530.5 54.5V1192.5"/>
<path d="M631.5 54.5V1192.5"/>
<path d="M731.5 54.5V1192.5"/>
<path d="M194.5 86.5H796.5"/>
<path d="M194.5 118.5H796.5"/>
<path d="M194.5 149.5H796.5"/>
<path d="M194.5 181.5H796.5"/>
<path d="M194.5 212.5H796.5"/>
<path d="M194.5 244.5H796.5"/>
<path d="M194.5 276.5H796.5"/>
<path d="M194.5 307.5H796.5"/>
<path d="M194.5 339.5H796.5"/>
<path d="M194.5 370.5H796.5"/>
<path d="M194.5 402.5H796.5"/>
<path d="M194.5 434.5H796.5"/>
<path d="M194.5 465.5H796.5"/>
<path d="M194.5 497.5H796.5"/>
<path d="M194.5 528.5H796.5"/>
<path d="M194.5 560.5H796.5"/>
<path d="M194.5 592.5H796.5"/>
<path d="M194.5 623.5H796.5"/>
<path d="M194.5 655.5H796.5"/>
<path d="M194.5 686.5H796.5"/>
<path d="M194.5 718.5H796.5"/>
<path d="M194.5 750.5H796.5"/>
<path d="M194.5 781.5H796.5"/>
<path d="M194.5 813.5H796.5"/>
<path d="M194.5 844.5H796.5"/>
<path d="M194.5 876.5H796.5"/>
<path d="M194.5 908.5H796.5"/>
<path d="M194.5 939.5H796.5"/>
<path d="M194.5 971.5H796.5"/>
<path d="M194.5 1003.5H796.5"/>
<path d="M194.5 1034.5H796.5"/>
<path d="M194.5 1066.5H796.5"/>
<path d="M194.5 1097.5H796.5"/>
<path d="M194.5 1129.5H796.5"/>
<path d="M194.5 1161.5H796.5"/>
</g>
<g stroke="#1f77b4" stroke-width="2.08" fill="none">
<path stroke-dasharray="2.08 3.44" d="M244 94V78"/>
<path stroke-dasharray="2.08 3.44" d="M684 94V78"/>
<path d="M456 78V94"/>
<path stroke-dasharray="2.08 3.44" d="M351 125V110"/>
<path stroke-dasharray="2.08 3.44" d="M408 125V110"/>
<path d="M379 110V125"/>
<path stroke-dasharray="2.08 3.44" d="M369 157V141"/>
<path stroke-dasharray="2.08 3.44" d="M405 157V141"/>
<path d="M389 141V157"/>
<path stroke-dasharray="2.08 3.44" d="M398 189V173"/>
<path stroke-dasharray="2.08 3.44" d="M427 189V173"/>
<path d="M412 173V189"/>
<path stroke-dasharray="2.08 3.44" d="M363 220V204"/>
<path stroke-dasharray="2.08 3.44" d="M453 220V204"/>
<path d="M409 204V220"/>
<path stroke-dasharray="2.08 3.44" d="M556 252V236"/>
<path stroke-dasharray="2.08 3.44" d="M605 252V236"/>
<path d="M581 236V252"/>
<path stroke-dasharray="2.08 3.44" d="M445 283V268"/>
<path stroke-dasharray="2.08 3.44" d="M483 283V268"/>
<path d="M463 268V283"/>
<path stroke-dasharray="2.08 3.44" d="M363 315V299"/>
<path stroke-dasharray="2.08 3.44" d="M376 315V299"/>
<path d="M370 299V315"/>
<path stroke-dasharray="2.08 3.44" d="M492 347V331"/>
<path stroke-dasharray="2.08 3.44" d="M511 347V331"/>
<path d="M502 331V347"/>
<path stroke-dasharray="2.08 3.44" d="M618 378V362"/>
<path stroke-dasharray="2.08 3.44" d="M631 378V362"/>
<path d="M625 362V378"/>
<path stroke-dasharray="2.08 3.44" d="M434 410V394"/>
<path stroke-dasharray="2.08 3.44" d="M446 410V394"/>
<path d="M439 394V410"/>
<path stroke-dasharray="2.08 3.44" d="M327 442V426"/>
<path stroke-dasharray="2.08 3.44" d="M338 442V426"/>
<path d="M333 426V442"/>
<path stroke-dasharray="2.08 3.44" d="M393 473V457"/>
<path stroke-dasharray="2.08 3.44" d="M402 473V457"/>
<path d="M397 457V473"/>
<path stroke-dasharray="2.08 3.44" d="M370 505V489"/>
<path stroke-dasharray="2.08 3.44" d="M379 505V489"/>
<path d="M374 489V505"/>
<path stroke-dasharray="2.08 3.44" d="M392 536V521"/>
<path stroke-dasharray="2.08 3.44" d="M416 536V521"/>
<path d="M405 521V536"/>
<path stroke-dasharray="2.08 3.44" d="M597 568V552"/>
<path stroke-dasharray="2.08 3.44" d="M617 568V552"/>
<path d="M606 552V568"/>
<path stroke-dasharray="2.08 3.44" d="M312 600V584"/>
<path stroke-dasharray="2.08 3.44" d="M327 600V584"/>
<path d="M319 584V600"/>
<path stroke-dasharray="2.08 3.44" d="M237 631V615"/>
<path stroke-dasharray="2.08 3.44" d="M243 631V615"/>
<path d="M240 615V631"/>
<path stroke-dasharray="2.08 3.44" d="M681 663V647"/>
<path stroke-dasharray="2.08 3.44" d="M729 663V647"/>
<path d="M704 647V663"/>
<path stroke-dasharray="2.08 3.44" d="M287 694V679"/>
<path stroke-dasharray="2.08 3.44" d="M300 694V679"/>
<path d="M293 679V694"/>
<path stroke-dasharray="2.08 3.44" d="M666 726V710"/>
<path stroke-dasharray="2.08 3.44" d="M701 726V710"/>
<path d="M684 710V726"/>
<path stroke-dasharray="2.08 3.44" d="M662 758V742"/>
<path stroke-dasharray="2.08 3.44" d="M701 758V742"/>
<path d="M681 742V758"/>
<path stroke-dasharray="2.08 3.44" d="M585 789V773"/>
<path stroke-dasharray="2.08 3.44" d="M611 789V773"/>
<path d="M598 773V789"/>
<path stroke-dasharray="2.08 3.44" d="M572 821V805"/>
<path stroke-dasharray="2.08 3.44" d="M600 821V805"/>
<path d="M586 805V821"/>
<path stroke-dasharray="2.08 3.44" d="M523 852V837"/>
<path stroke-dasharray="2.08 3.44" d="M552 852V837"/>
<path d="M538 837V852"/>
<path stroke-dasharray="2.08 3.44" d="M228 884V868"/>
<path stroke-dasharray="2.08 3.44" d="M233 884V868"/>
<path d="M231 868V884"/>
<path stroke-dasharray="2.08 3.44" d="M242 916V900"/>
<path stroke-dasharray="2.08 3.44" d="M248 916V900"/>
<path d="M245 900V916"/>
<path stroke-dasharray="2.08 3.44" d="M399 947V931"/>
<path stroke-dasharray="2.08 3.44" d="M408 947V931"/>
<path d="M403 931V947"/>
<path stroke-dasharray="2.08 3.44" d="M457 979V963"/>
<path stroke-dasharray="2.08 3.44" d="M472 979V963"/>
<path d="M466 963V979"/>
<path stroke-dasharray="2.08 3.44" d="M340 1010V995"/>
<path stroke-dasharray="2.08 3.44" d="M367 1010V995"/>
<path d="M354 995V1010"/>
<path stroke-dasharray="2.08 3.44" d="M458 1042V1026"/>
<path stroke-dasharray="2.08 3.44" d="M495 1042V1026"/>
<path d="M476 1026V1042"/>
<path stroke-dasharray="2.08 3.44" d="M308 1074V1058"/>
<path stroke-dasharray="2.08 3.44" d="M328 1074V1058"/>
<path d="M319 1058V1074"/>
<path stroke-dasharray="2.08 3.44" d="M230 1105V1089"/>
<path stroke-dasharray="2.08 3.44" d="M243 1105V1089"/>
<path d="M236 1089V1105"/>
<path stroke-dasharray="2.08 3.44" d="M709 1137V1121"/>
<path stroke-dasharray="2.08 3.44" d="M752 1137V1121"/>
<path d="M731 1121V1137"/>
<path stroke-dasharray="2.08 3.44" d="M672 1168V1153"/>
<path stroke-dasharray="2.08 3.44" d="M704 1168V1153"/>
<path d="M688 1153V1168"/>
</g>
<rect x="227.96" y="54.5" width="2.08" height="1138" fill="#1f77b4"/>
<rect x="194.5" y="54.5" width="602" height="1138" fill="none" stroke="#000" stroke-width="1.11"/>
<g stroke="#000" stroke-width="1.11" fill="none">
<path d="M229.5 54.5v-5"/>
<path d="M229.5 1192.5v5"/>
<path d="M329.5 54.5v-5"/>
<path d="M329.5 1192.5v5"/>
<path d="M430.5 54.5v-5"/>
<path d="M430.5 1192.5v5"/>
<path d="M530.5 54.5v-5"/>
<path d="M530.5 1192.5v5"/>
<path d="M631.5 54.5v-5"/>
<path d="M631.5 1192.5v5"/>
<path d="M731.5 54.5v-5"/>
<path d="M731.5 1192.5v5"/>
<path d="M194.5 86.5h-5"/>
<path d="M194.5 118.5h-5"/>
<path d="M194.5 149.5h-5"/>
<path d="M194.5 181.5h-5"/>
<path d="M194.5 212.5h-5"/>
<path d="M194.5 244.5h-5"/>
<path d="M194.5 276.5h-5"/>
<path d="M194.5 307.5h-5"/>
<path d="M194.5 339.5h-5"/>
<path d="M194.5 370.5h-5"/>
<path d="M194.5 402.5h-5"/>
<path d="M194.5 434.5h-5"/>
<path d="M194.5 465.5h-5"/>
<path d="M194.5 497.5h-5"/>
<path d="M194.5 528.5h-5"/>
<path d="M194.5 560.5h-5"/>
<path d="M194.5 592.5h-5"/>
<path d="M194.5 623.5h-5"/>
<path d="M194.5 655.5h-5"/>
<path d="M194.5 686.5h-5"/>
<path d="M194.5 718.5h-5"/>
<path d="M194.5 750.5h-5"/>
<path d="M194.5 781.5h-5"/>
<path d="M194.5 813.5h-5"/>
<path d="M194.5 844.5h-5"/>
<path d="M194.5 876.5h-5"/>
<path d="M194.5 908.5h-5"/>
<path d="M194.5 939.5h-5"/>
<path d="M194.5 971.5h-5"/>
<path d="M194.5 1003.5h-5"/>
<path d="M194.5 1034.5h-5"/>
<path d="M194.5 1066.5h-5"/>
<path d="M194.5 1097.5h-5"/>
<path d="M194.5 1129.5h-5"/>
<path d="M194.5 1161.5h-5"/>
</g>
<g font-size="13.89px" text-anchor="middle" letter-spacing="-0.3">
<text x="228.9" y="42">1.00x</text>
<text x="228.9" y="1212.6">1.00x</text>
<text x="329.34" y="42">1.20x</text>
<text x="329.34" y="1212.6">1.20x</text>
<text x="429.78" y="42">1.40x</text>
<text x="429.78" y="1212.6">1.40x</text>
<text x="530.22" y="42">1.60x</text>
<text x="530.22" y="1212.6">1.60x</text>
<text x="630.66" y="42">1.80x</text>
<text x="630.66" y="1212.6">1.80x</text>
<text x="731.1" y="42">2.00x</text>
<text x="731.1" y="1212.6">2.00x</text>
</g>
<g font-size="13.89px" text-anchor="end">
<text id="y0" x="182.78" y="91.39" textLength="23.97">ALL</text>
<text id="y1" x="184.54" y="123" textLength="176.53">async_tree_cpu_io_mixed</text>
<text id="y2" x="183.79" y="154.6" textLength="94.53">async_tree_io</text>
<text id="y3" x="183.78" y="186.21" textLength="172.6">async_tree_memoization</text>
<text id="y4" x="184.06" y="217.81" textLength="116.77">async_tree_none</text>
<text id="y5" x="184.55" y="249.42" textLength="65.35">deltablue</text>
<text id="y6" x="184.24" y="281.03" textLength="53.92">docutils</text>
<text id="y7" x="184.15" y="312.63" textLength="64.03">fannkuch</text>
<text id="y8" x="184.32" y="344.24" textLength="16.43">go</text>
<text id="y9" x="183.3" y="375.84" textLength="51.02">hexiom</text>
<text id="y10" x="184.53" y="407.45" textLength="82.3">json_dumps</text>
<text id="y11" x="184.52" y="439.06" textLength="72.34">json_loads</text>
<text id="y12" x="183.09" y="470.66" textLength="30.39">mdp</text>
<text id="y13" x="183.84" y="502.27" textLength="108.69">meteor_contest</text>
<text id="y14" x="183.23" y="533.87" textLength="43">nbody</text>
<text id="y15" x="183.19" y="565.48" textLength="58.92">nqueens</text>
<text id="y16" x="183.86" y="597.09" textLength="40.21">pickle</text>
<text id="y17" x="183.84" y="628.69" textLength="73.55">pickle_dict</text>
<text id="y18" x="184.08" y="660.3" textLength="168.02">pickle_dict_pure_python</text>
<text id="y19" x="183.11" y="691.9" textLength="67.71">pickle_list</text>
<text id="y20" x="183.64" y="723.51" textLength="162.43">pickle_list_pure_python</text>
<text id="y21" x="183.3" y="755.12" textLength="135.09">pickle_pure_python</text>
<text id="y22" x="183" y="786.72" textLength="103.75">pprint_pformat</text>
<text id="y23" x="183.24" y="818.33" textLength="113.1">pprint_safe_repr</text>
<text id="y24" x="183.75" y="849.93" textLength="58.57">raytrace</text>
<text id="y25" x="183.54" y="881.54" textLength="72.25">regex_dna</text>
<text id="y26" x="183.84" y="913.15" textLength="87.9">regex_effbot</text>
<text id="y27" x="183.58" y="944.75" textLength="63.29">regex_v8</text>
<text id="y28" x="184.2" y="976.36" textLength="99.34">spectral_norm</text>
<text id="y29" x="184.2" y="1007.96" textLength="83.08">sqlite_synth</text>
<text id="y30" x="183.78" y="1039.57" textLength="33.32">telco</text>
<text id="y31" x="183.44" y="1071.18" textLength="58.29">unpickle</text>
<text id="y32" x="183.84" y="1102.78" textLength="85.64">unpickle_list</text>
<text id="y33" x="183.18" y="1134.39" textLength="180.16">unpickle_list_pure_python</text>
<text id="y34" x="183.68" y="1165.99" textLength="152.7">unpickle_pure_python</text>
</g>
<text x="494.2" y="21.4" font-size="16.67px" text-anchor="middle">Overhead of Memray with Defaut</text>
<rect x="16.5" y="4.5" width="171" height="46" rx="2.8" ry="2.8" fill="#fff" fill-opacity="0.8" stroke="#ccc" stroke-width="1.11"/>
<rect x="22.6" y="11.7" width="27.8" height="9.72" fill="#f00" stroke="#f00" stroke-width="1.39"/>
<rect x="22.6" y="32.5" width="27.8" height="9.72" fill="#00f" stroke="#00f" stroke-width="1.39"/>
<g font-size="13.89px" letter-spacing="-0.05">
<text x="61.0" y="21.2">Microbenchmark</text>
<text x="61.0" y="42">Macrobenchmark</text>
</g>
</svg>
</body></html>
